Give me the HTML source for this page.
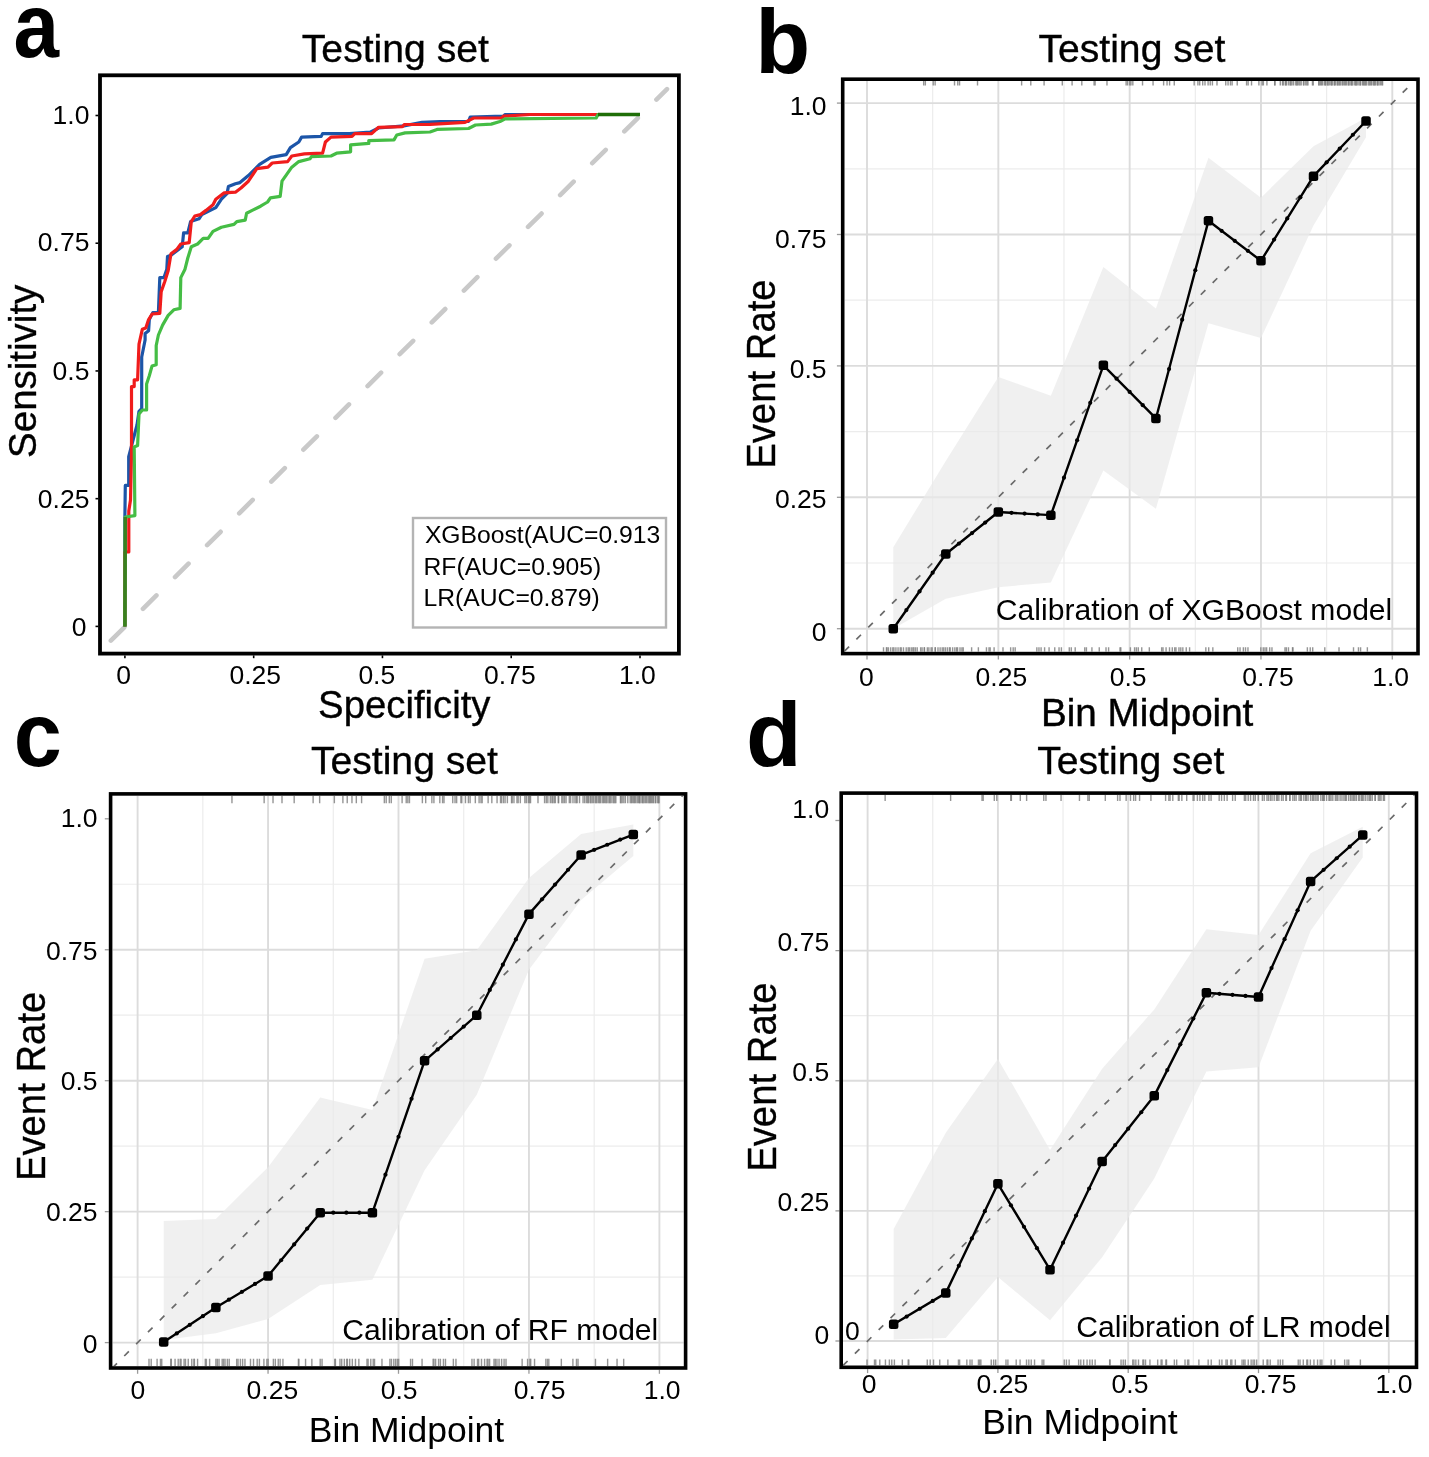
<!DOCTYPE html><html><head><meta charset="utf-8"><title>Figure</title>
<style>html,body{margin:0;padding:0;background:#fff;}svg{display:block;will-change:transform;}text{font-family:"Liberation Sans", sans-serif;}.hv{stroke:#000;stroke-width:0.35px;}</style></head><body>
<svg width="1429" height="1457" viewBox="0 0 1429 1457">
<rect x="0" y="0" width="1429" height="1457" fill="#fff"/>
<text transform="translate(13.6,57) scale(0.9,1)" font-size="91" font-weight="bold">a</text>
<text transform="translate(755.2,73.3)" font-size="90" font-weight="bold">b</text>
<text transform="translate(13.8,765.5) scale(0.95,1)" font-size="91" font-weight="bold">c</text>
<text transform="translate(746,765.6)" font-size="91" font-weight="bold">d</text>
<text x="301.8" y="62" font-size="39.15" text-anchor="start" font-weight="normal" fill="#000" class="hv">Testing set</text>
<defs><clipPath id="clipA"><rect x="101.8" y="77.2" width="675.7" height="574.5"/></clipPath></defs>
<g clip-path="url(#clipA)">
<line x1="109.6" y1="641.9" x2="667" y2="89.1" stroke="#c9c9c9" stroke-width="4.6" stroke-dasharray="19 26.2" stroke-dashoffset="-1.75" stroke-linecap="round"/>
<polyline points="124.9,626.4 124.9,515.6 125.3,485.4 128.7,485.4 128.7,456.6 137,425 139,411.3 141.7,408.6 141.7,357 145.1,340 145.1,333.5 148.6,330.7 149.3,319.6 152.8,312.6 158.4,312.6 159.8,277.6 164,277.6 166.8,269.2 167.5,256.6 171,255.2 182.2,246.8 183.6,232.8 187.8,232.8 190.6,221.6 199,218.8 201.8,214.6 215.8,207.6 221.4,199.2 227,193.6 228.4,186.6 235.4,183.8 240,182.6 248.4,175.6 259.6,164.4 270.8,157.4 286.2,154.6 290.4,147.6 298.8,142 301.6,137.1 321.2,136.4 322.6,133.6 349.2,133.6 370.2,132.2 378.6,128 403.8,125.9 422,122.4 440,121.7 468.5,121.5 470.2,117.1 503.5,116.2 505.2,114.5 640,114.5" fill="none" stroke="#1c55a8" stroke-width="3.2" stroke-linejoin="round"/>
<polyline points="124.9,626.4 124.9,552 128.8,552 128.8,511 130.5,500 131.5,454 131.5,386.6 134.2,386.6 134.2,379.8 137.6,379.8 139,344.1 139.5,341.9 142.3,329.3 145.8,327.9 148.6,319.6 152.1,314 159.8,313.3 161.2,291.6 164.7,281.8 168.2,270.6 171,253.8 176.6,249.6 180.8,244 189.2,242.6 191.3,221.6 194.8,216 200.4,214.6 206,210.4 213,204.8 215.8,199.2 224.2,192.9 235.4,192.2 241,188 248.4,181.2 256.8,168.6 268,167.2 272.2,163 287.6,161.6 291.8,156 304.4,153.9 322.6,153.2 325.4,142 331,137.1 352,136.4 354.8,133.6 371.6,133.6 378.6,127.3 402.4,126.6 404.5,124.5 430,124.3 465,122.4 473.7,118 501.7,118 503.5,116.2 529.7,114.5 640,114.5" fill="none" stroke="#f01c1c" stroke-width="3.2" stroke-linejoin="round"/>
<polyline points="124.9,626.4 125.3,517 134.9,515.6 134.2,447 137.6,445.6 139,414.1 142.4,410 146.6,410 146.6,383.9 149.3,375.7 152,366.1 156.2,364.7 156.2,345.5 158.4,335 162.6,325.1 168.2,315.4 173.8,309.8 180.1,308.4 180.8,277.6 185,269.2 187.8,258 191.3,246.8 197.6,244 203.2,238.4 208.1,238.4 213,231.4 221.4,227.2 234,224.4 236.8,221.6 245.2,220.2 246.6,213.2 252.2,210.4 260.6,206.2 267.6,202 270.4,197.8 280.2,196.4 282,181.2 291.8,167.2 298.8,161.6 310,158.8 311.4,156.7 331,156 336.6,153.2 350.6,151.8 350.6,144.8 368.8,143.4 368.8,140.6 394,139.9 396.8,135 405.1,132.9 430,132 437,129.4 468.5,128.5 475.5,125 491.2,124.1 500,121.5 505.2,118.9 596.2,118 598,114.5 640,114.5" fill="none" stroke="#45bd45" stroke-width="3.2" stroke-linejoin="round"/>
<polyline points="124.9,626.4 125.3,517" fill="none" stroke="#3a801e" stroke-width="3.4" stroke-linejoin="round"/>
<polyline points="598,114.5 640,114.5" fill="none" stroke="#1f6e08" stroke-width="3.4" stroke-linejoin="round"/>
</g>
<rect x="413" y="518" width="253" height="109.5" fill="none" stroke="#b4b4b4" stroke-width="2.4"/>
<text x="424.9" y="543.1" font-size="24.7" text-anchor="start" font-weight="normal" fill="#000">XGBoost(AUC=0.913</text>
<text x="423.5" y="575.4" font-size="24.7" text-anchor="start" font-weight="normal" fill="#000">RF(AUC=0.905)</text>
<text x="423.5" y="605.8" font-size="24.7" text-anchor="start" font-weight="normal" fill="#000">LR(AUC=0.879)</text>
<rect x="100" y="75.3" width="578.9" height="578.3" fill="none" stroke="#000" stroke-width="3.8"/>
<line x1="95.5" y1="626.4" x2="98.2" y2="626.4" stroke="#000" stroke-width="1.6"/>
<line x1="124.9" y1="655.4" x2="124.9" y2="658.2" stroke="#000" stroke-width="1.6"/>
<line x1="95.5" y1="498.67" x2="98.2" y2="498.67" stroke="#000" stroke-width="1.6"/>
<line x1="253.68" y1="655.4" x2="253.68" y2="658.2" stroke="#000" stroke-width="1.6"/>
<line x1="95.5" y1="370.95" x2="98.2" y2="370.95" stroke="#000" stroke-width="1.6"/>
<line x1="382.45" y1="655.4" x2="382.45" y2="658.2" stroke="#000" stroke-width="1.6"/>
<line x1="95.5" y1="243.23" x2="98.2" y2="243.23" stroke="#000" stroke-width="1.6"/>
<line x1="511.23" y1="655.4" x2="511.23" y2="658.2" stroke="#000" stroke-width="1.6"/>
<line x1="95.5" y1="115.5" x2="98.2" y2="115.5" stroke="#000" stroke-width="1.6"/>
<line x1="640" y1="655.4" x2="640" y2="658.2" stroke="#000" stroke-width="1.6"/>
<text x="89.4" y="123.6" font-size="26.5" text-anchor="end" font-weight="normal" fill="#000">1.0</text>
<text x="89.4" y="250.5" font-size="26.5" text-anchor="end" font-weight="normal" fill="#000">0.75</text>
<text x="89.4" y="380.2" font-size="26.5" text-anchor="end" font-weight="normal" fill="#000">0.5</text>
<text x="89.4" y="507.5" font-size="26.5" text-anchor="end" font-weight="normal" fill="#000">0.25</text>
<text x="86.4" y="636" font-size="26.5" text-anchor="end" font-weight="normal" fill="#000">0</text>
<text x="123.7" y="683.6" font-size="26.5" text-anchor="middle" font-weight="normal" fill="#000">0</text>
<text x="255.3" y="683.6" font-size="26.5" text-anchor="middle" font-weight="normal" fill="#000">0.25</text>
<text x="376.8" y="683.6" font-size="26.5" text-anchor="middle" font-weight="normal" fill="#000">0.5</text>
<text x="509.9" y="683.6" font-size="26.5" text-anchor="middle" font-weight="normal" fill="#000">0.75</text>
<text x="637.4" y="683.6" font-size="26.5" text-anchor="middle" font-weight="normal" fill="#000">1.0</text>
<text class="hv" transform="translate(36.4,371.3) rotate(-90) scale(1,1)" x="0" y="0" font-size="38.5" text-anchor="middle">Sensitivity</text>
<text x="404.3" y="718.1" font-size="38.3" text-anchor="middle" font-weight="normal" fill="#000" class="hv">Specificity</text>
<defs><clipPath id="clipB"><rect x="844.5" y="81" width="571.7" height="570.8"/></clipPath></defs>
<g clip-path="url(#clipB)">
<line x1="932.66" y1="81" x2="932.66" y2="651.8" stroke="#ececec" stroke-width="1.2"/>
<line x1="844.5" y1="563" x2="1416.2" y2="563" stroke="#ececec" stroke-width="1.2"/>
<line x1="1063.99" y1="81" x2="1063.99" y2="651.8" stroke="#ececec" stroke-width="1.2"/>
<line x1="844.5" y1="431.6" x2="1416.2" y2="431.6" stroke="#ececec" stroke-width="1.2"/>
<line x1="1195.31" y1="81" x2="1195.31" y2="651.8" stroke="#ececec" stroke-width="1.2"/>
<line x1="844.5" y1="300.2" x2="1416.2" y2="300.2" stroke="#ececec" stroke-width="1.2"/>
<line x1="1326.64" y1="81" x2="1326.64" y2="651.8" stroke="#ececec" stroke-width="1.2"/>
<line x1="844.5" y1="168.8" x2="1416.2" y2="168.8" stroke="#ececec" stroke-width="1.2"/>
<line x1="867" y1="81" x2="867" y2="651.8" stroke="#dcdcdc" stroke-width="1.9"/>
<line x1="844.5" y1="628.7" x2="1416.2" y2="628.7" stroke="#dcdcdc" stroke-width="1.9"/>
<line x1="998.33" y1="81" x2="998.33" y2="651.8" stroke="#dcdcdc" stroke-width="1.9"/>
<line x1="844.5" y1="497.3" x2="1416.2" y2="497.3" stroke="#dcdcdc" stroke-width="1.9"/>
<line x1="1129.65" y1="81" x2="1129.65" y2="651.8" stroke="#dcdcdc" stroke-width="1.9"/>
<line x1="844.5" y1="365.9" x2="1416.2" y2="365.9" stroke="#dcdcdc" stroke-width="1.9"/>
<line x1="1260.97" y1="81" x2="1260.97" y2="651.8" stroke="#dcdcdc" stroke-width="1.9"/>
<line x1="844.5" y1="234.5" x2="1416.2" y2="234.5" stroke="#dcdcdc" stroke-width="1.9"/>
<line x1="1392.3" y1="81" x2="1392.3" y2="651.8" stroke="#dcdcdc" stroke-width="1.9"/>
<line x1="844.5" y1="103.1" x2="1416.2" y2="103.1" stroke="#dcdcdc" stroke-width="1.9"/>
<polygon points="893.26,547.23 945.79,461.03 998.33,376.94 1050.86,395.86 1103.38,267.09 1155.91,308.61 1208.45,157.76 1260.97,197.71 1313.51,146.2 1366.03,117.82 1366.03,137.26 1313.51,225.56 1260.97,338.04 1208.45,323.33 1155.91,508.86 1103.38,470.49 1050.86,582.45 998.33,587.18 945.79,598.74 893.26,628.7" fill="#e9e9e9" fill-opacity="0.7"/>
<line x1="844.5" y1="651.21" x2="1416.2" y2="79.19" stroke="#6a6a6a" stroke-width="1.7" stroke-dasharray="6.5 10.3"/>
<line x1="923.68" y1="81" x2="923.68" y2="85.5" stroke="#7a7a7a" stroke-width="1.4" stroke-opacity="0.8"/>
<line x1="925.34" y1="81" x2="925.34" y2="85.5" stroke="#7a7a7a" stroke-width="1.4" stroke-opacity="0.8"/>
<line x1="933.23" y1="81" x2="933.23" y2="85.5" stroke="#7a7a7a" stroke-width="1.4" stroke-opacity="0.8"/>
<line x1="935.13" y1="81" x2="935.13" y2="85.5" stroke="#7a7a7a" stroke-width="1.4" stroke-opacity="0.8"/>
<line x1="954.52" y1="81" x2="954.52" y2="85.5" stroke="#7a7a7a" stroke-width="1.4" stroke-opacity="0.8"/>
<line x1="957.76" y1="81" x2="957.76" y2="85.5" stroke="#7a7a7a" stroke-width="1.4" stroke-opacity="0.8"/>
<line x1="959.55" y1="81" x2="959.55" y2="85.5" stroke="#7a7a7a" stroke-width="1.4" stroke-opacity="0.8"/>
<line x1="977.51" y1="81" x2="977.51" y2="85.5" stroke="#7a7a7a" stroke-width="1.4" stroke-opacity="0.8"/>
<line x1="1021.63" y1="81" x2="1021.63" y2="85.5" stroke="#7a7a7a" stroke-width="1.4" stroke-opacity="0.8"/>
<line x1="1030.79" y1="81" x2="1030.79" y2="85.5" stroke="#7a7a7a" stroke-width="1.4" stroke-opacity="0.8"/>
<line x1="1044.09" y1="81" x2="1044.09" y2="85.5" stroke="#7a7a7a" stroke-width="1.4" stroke-opacity="0.8"/>
<line x1="1062.3" y1="81" x2="1062.3" y2="85.5" stroke="#7a7a7a" stroke-width="1.4" stroke-opacity="0.8"/>
<line x1="1072.09" y1="81" x2="1072.09" y2="85.5" stroke="#7a7a7a" stroke-width="1.4" stroke-opacity="0.8"/>
<line x1="1081.81" y1="81" x2="1081.81" y2="85.5" stroke="#7a7a7a" stroke-width="1.4" stroke-opacity="0.8"/>
<line x1="1094.08" y1="81" x2="1094.08" y2="85.5" stroke="#7a7a7a" stroke-width="1.4" stroke-opacity="0.8"/>
<line x1="1095.13" y1="81" x2="1095.13" y2="85.5" stroke="#7a7a7a" stroke-width="1.4" stroke-opacity="0.8"/>
<line x1="1106.98" y1="81" x2="1106.98" y2="85.5" stroke="#7a7a7a" stroke-width="1.4" stroke-opacity="0.8"/>
<line x1="1126.12" y1="81" x2="1126.12" y2="85.5" stroke="#7a7a7a" stroke-width="1.4" stroke-opacity="0.8"/>
<line x1="1127.64" y1="81" x2="1127.64" y2="85.5" stroke="#7a7a7a" stroke-width="1.4" stroke-opacity="0.8"/>
<line x1="1129.75" y1="81" x2="1129.75" y2="85.5" stroke="#7a7a7a" stroke-width="1.4" stroke-opacity="0.8"/>
<line x1="1130.95" y1="81" x2="1130.95" y2="85.5" stroke="#7a7a7a" stroke-width="1.4" stroke-opacity="0.8"/>
<line x1="1132.83" y1="81" x2="1132.83" y2="85.5" stroke="#7a7a7a" stroke-width="1.4" stroke-opacity="0.8"/>
<line x1="1142.53" y1="81" x2="1142.53" y2="85.5" stroke="#7a7a7a" stroke-width="1.4" stroke-opacity="0.8"/>
<line x1="1153.06" y1="81" x2="1153.06" y2="85.5" stroke="#7a7a7a" stroke-width="1.4" stroke-opacity="0.8"/>
<line x1="1163.62" y1="81" x2="1163.62" y2="85.5" stroke="#7a7a7a" stroke-width="1.4" stroke-opacity="0.8"/>
<line x1="1167.04" y1="81" x2="1167.04" y2="85.5" stroke="#7a7a7a" stroke-width="1.4" stroke-opacity="0.8"/>
<line x1="1169.6" y1="81" x2="1169.6" y2="85.5" stroke="#7a7a7a" stroke-width="1.4" stroke-opacity="0.8"/>
<line x1="1174.26" y1="81" x2="1174.26" y2="85.5" stroke="#7a7a7a" stroke-width="1.4" stroke-opacity="0.8"/>
<line x1="1194.17" y1="81" x2="1194.17" y2="85.5" stroke="#7a7a7a" stroke-width="1.4" stroke-opacity="0.8"/>
<line x1="1197.91" y1="81" x2="1197.91" y2="85.5" stroke="#7a7a7a" stroke-width="1.4" stroke-opacity="0.8"/>
<line x1="1199.72" y1="81" x2="1199.72" y2="85.5" stroke="#7a7a7a" stroke-width="1.4" stroke-opacity="0.8"/>
<line x1="1202.71" y1="81" x2="1202.71" y2="85.5" stroke="#7a7a7a" stroke-width="1.4" stroke-opacity="0.8"/>
<line x1="1205" y1="81" x2="1205" y2="85.5" stroke="#7a7a7a" stroke-width="1.4" stroke-opacity="0.8"/>
<line x1="1208.1" y1="81" x2="1208.1" y2="85.5" stroke="#7a7a7a" stroke-width="1.4" stroke-opacity="0.8"/>
<line x1="1210.22" y1="81" x2="1210.22" y2="85.5" stroke="#7a7a7a" stroke-width="1.4" stroke-opacity="0.8"/>
<line x1="1212.41" y1="81" x2="1212.41" y2="85.5" stroke="#7a7a7a" stroke-width="1.4" stroke-opacity="0.8"/>
<line x1="1216.99" y1="81" x2="1216.99" y2="85.5" stroke="#7a7a7a" stroke-width="1.4" stroke-opacity="0.8"/>
<line x1="1225.74" y1="81" x2="1225.74" y2="85.5" stroke="#7a7a7a" stroke-width="1.4" stroke-opacity="0.8"/>
<line x1="1228.06" y1="81" x2="1228.06" y2="85.5" stroke="#7a7a7a" stroke-width="1.4" stroke-opacity="0.8"/>
<line x1="1230.45" y1="81" x2="1230.45" y2="85.5" stroke="#7a7a7a" stroke-width="1.4" stroke-opacity="0.8"/>
<line x1="1232.12" y1="81" x2="1232.12" y2="85.5" stroke="#7a7a7a" stroke-width="1.4" stroke-opacity="0.8"/>
<line x1="1237.23" y1="81" x2="1237.23" y2="85.5" stroke="#7a7a7a" stroke-width="1.4" stroke-opacity="0.8"/>
<line x1="1246.58" y1="81" x2="1246.58" y2="85.5" stroke="#7a7a7a" stroke-width="1.4" stroke-opacity="0.8"/>
<line x1="1248.14" y1="81" x2="1248.14" y2="85.5" stroke="#7a7a7a" stroke-width="1.4" stroke-opacity="0.8"/>
<line x1="1251.53" y1="81" x2="1251.53" y2="85.5" stroke="#7a7a7a" stroke-width="1.4" stroke-opacity="0.8"/>
<line x1="1258.9" y1="81" x2="1258.9" y2="85.5" stroke="#7a7a7a" stroke-width="1.4" stroke-opacity="0.8"/>
<line x1="1262.15" y1="81" x2="1262.15" y2="85.5" stroke="#7a7a7a" stroke-width="1.4" stroke-opacity="0.8"/>
<line x1="1263.37" y1="81" x2="1263.37" y2="85.5" stroke="#7a7a7a" stroke-width="1.4" stroke-opacity="0.8"/>
<line x1="1266.91" y1="81" x2="1266.91" y2="85.5" stroke="#7a7a7a" stroke-width="1.4" stroke-opacity="0.8"/>
<line x1="1274.69" y1="81" x2="1274.69" y2="85.5" stroke="#7a7a7a" stroke-width="1.4" stroke-opacity="0.8"/>
<line x1="1275" y1="81" x2="1275" y2="85.5" stroke="#7a7a7a" stroke-width="1.4" stroke-opacity="0.8"/>
<line x1="1280.28" y1="81" x2="1280.28" y2="85.5" stroke="#7a7a7a" stroke-width="1.4" stroke-opacity="0.8"/>
<line x1="1282.52" y1="81" x2="1282.52" y2="85.5" stroke="#7a7a7a" stroke-width="1.4" stroke-opacity="0.8"/>
<line x1="1283.26" y1="81" x2="1283.26" y2="85.5" stroke="#7a7a7a" stroke-width="1.4" stroke-opacity="0.8"/>
<line x1="1285.25" y1="81" x2="1285.25" y2="85.5" stroke="#7a7a7a" stroke-width="1.4" stroke-opacity="0.8"/>
<line x1="1285.8" y1="81" x2="1285.8" y2="85.5" stroke="#7a7a7a" stroke-width="1.4" stroke-opacity="0.8"/>
<line x1="1286.69" y1="81" x2="1286.69" y2="85.5" stroke="#7a7a7a" stroke-width="1.4" stroke-opacity="0.8"/>
<line x1="1288.74" y1="81" x2="1288.74" y2="85.5" stroke="#7a7a7a" stroke-width="1.4" stroke-opacity="0.8"/>
<line x1="1290.25" y1="81" x2="1290.25" y2="85.5" stroke="#7a7a7a" stroke-width="1.4" stroke-opacity="0.8"/>
<line x1="1290.9" y1="81" x2="1290.9" y2="85.5" stroke="#7a7a7a" stroke-width="1.4" stroke-opacity="0.8"/>
<line x1="1291.98" y1="81" x2="1291.98" y2="85.5" stroke="#7a7a7a" stroke-width="1.4" stroke-opacity="0.8"/>
<line x1="1293.62" y1="81" x2="1293.62" y2="85.5" stroke="#7a7a7a" stroke-width="1.4" stroke-opacity="0.8"/>
<line x1="1295.77" y1="81" x2="1295.77" y2="85.5" stroke="#7a7a7a" stroke-width="1.4" stroke-opacity="0.8"/>
<line x1="1296.82" y1="81" x2="1296.82" y2="85.5" stroke="#7a7a7a" stroke-width="1.4" stroke-opacity="0.8"/>
<line x1="1297.29" y1="81" x2="1297.29" y2="85.5" stroke="#7a7a7a" stroke-width="1.4" stroke-opacity="0.8"/>
<line x1="1298.78" y1="81" x2="1298.78" y2="85.5" stroke="#7a7a7a" stroke-width="1.4" stroke-opacity="0.8"/>
<line x1="1299.91" y1="81" x2="1299.91" y2="85.5" stroke="#7a7a7a" stroke-width="1.4" stroke-opacity="0.8"/>
<line x1="1301.17" y1="81" x2="1301.17" y2="85.5" stroke="#7a7a7a" stroke-width="1.4" stroke-opacity="0.8"/>
<line x1="1303.46" y1="81" x2="1303.46" y2="85.5" stroke="#7a7a7a" stroke-width="1.4" stroke-opacity="0.8"/>
<line x1="1303.96" y1="81" x2="1303.96" y2="85.5" stroke="#7a7a7a" stroke-width="1.4" stroke-opacity="0.8"/>
<line x1="1305.78" y1="81" x2="1305.78" y2="85.5" stroke="#7a7a7a" stroke-width="1.4" stroke-opacity="0.8"/>
<line x1="1306.95" y1="81" x2="1306.95" y2="85.5" stroke="#7a7a7a" stroke-width="1.4" stroke-opacity="0.8"/>
<line x1="1307.93" y1="81" x2="1307.93" y2="85.5" stroke="#7a7a7a" stroke-width="1.4" stroke-opacity="0.8"/>
<line x1="1312.46" y1="81" x2="1312.46" y2="85.5" stroke="#7a7a7a" stroke-width="1.4" stroke-opacity="0.8"/>
<line x1="1313.26" y1="81" x2="1313.26" y2="85.5" stroke="#7a7a7a" stroke-width="1.4" stroke-opacity="0.8"/>
<line x1="1318.7" y1="81" x2="1318.7" y2="85.5" stroke="#7a7a7a" stroke-width="1.4" stroke-opacity="0.8"/>
<line x1="1319.21" y1="81" x2="1319.21" y2="85.5" stroke="#7a7a7a" stroke-width="1.4" stroke-opacity="0.8"/>
<line x1="1320.62" y1="81" x2="1320.62" y2="85.5" stroke="#7a7a7a" stroke-width="1.4" stroke-opacity="0.8"/>
<line x1="1321.48" y1="81" x2="1321.48" y2="85.5" stroke="#7a7a7a" stroke-width="1.4" stroke-opacity="0.8"/>
<line x1="1322.63" y1="81" x2="1322.63" y2="85.5" stroke="#7a7a7a" stroke-width="1.4" stroke-opacity="0.8"/>
<line x1="1324.47" y1="81" x2="1324.47" y2="85.5" stroke="#7a7a7a" stroke-width="1.4" stroke-opacity="0.8"/>
<line x1="1325.37" y1="81" x2="1325.37" y2="85.5" stroke="#7a7a7a" stroke-width="1.4" stroke-opacity="0.8"/>
<line x1="1325.91" y1="81" x2="1325.91" y2="85.5" stroke="#7a7a7a" stroke-width="1.4" stroke-opacity="0.8"/>
<line x1="1327.63" y1="81" x2="1327.63" y2="85.5" stroke="#7a7a7a" stroke-width="1.4" stroke-opacity="0.8"/>
<line x1="1327.98" y1="81" x2="1327.98" y2="85.5" stroke="#7a7a7a" stroke-width="1.4" stroke-opacity="0.8"/>
<line x1="1329.26" y1="81" x2="1329.26" y2="85.5" stroke="#7a7a7a" stroke-width="1.4" stroke-opacity="0.8"/>
<line x1="1330.84" y1="81" x2="1330.84" y2="85.5" stroke="#7a7a7a" stroke-width="1.4" stroke-opacity="0.8"/>
<line x1="1331.7" y1="81" x2="1331.7" y2="85.5" stroke="#7a7a7a" stroke-width="1.4" stroke-opacity="0.8"/>
<line x1="1332.19" y1="81" x2="1332.19" y2="85.5" stroke="#7a7a7a" stroke-width="1.4" stroke-opacity="0.8"/>
<line x1="1334.24" y1="81" x2="1334.24" y2="85.5" stroke="#7a7a7a" stroke-width="1.4" stroke-opacity="0.8"/>
<line x1="1334.48" y1="81" x2="1334.48" y2="85.5" stroke="#7a7a7a" stroke-width="1.4" stroke-opacity="0.8"/>
<line x1="1335.61" y1="81" x2="1335.61" y2="85.5" stroke="#7a7a7a" stroke-width="1.4" stroke-opacity="0.8"/>
<line x1="1337.25" y1="81" x2="1337.25" y2="85.5" stroke="#7a7a7a" stroke-width="1.4" stroke-opacity="0.8"/>
<line x1="1337.86" y1="81" x2="1337.86" y2="85.5" stroke="#7a7a7a" stroke-width="1.4" stroke-opacity="0.8"/>
<line x1="1338.9" y1="81" x2="1338.9" y2="85.5" stroke="#7a7a7a" stroke-width="1.4" stroke-opacity="0.8"/>
<line x1="1339.75" y1="81" x2="1339.75" y2="85.5" stroke="#7a7a7a" stroke-width="1.4" stroke-opacity="0.8"/>
<line x1="1340.85" y1="81" x2="1340.85" y2="85.5" stroke="#7a7a7a" stroke-width="1.4" stroke-opacity="0.8"/>
<line x1="1342.46" y1="81" x2="1342.46" y2="85.5" stroke="#7a7a7a" stroke-width="1.4" stroke-opacity="0.8"/>
<line x1="1343.18" y1="81" x2="1343.18" y2="85.5" stroke="#7a7a7a" stroke-width="1.4" stroke-opacity="0.8"/>
<line x1="1344.65" y1="81" x2="1344.65" y2="85.5" stroke="#7a7a7a" stroke-width="1.4" stroke-opacity="0.8"/>
<line x1="1345.49" y1="81" x2="1345.49" y2="85.5" stroke="#7a7a7a" stroke-width="1.4" stroke-opacity="0.8"/>
<line x1="1346.66" y1="81" x2="1346.66" y2="85.5" stroke="#7a7a7a" stroke-width="1.4" stroke-opacity="0.8"/>
<line x1="1348.29" y1="81" x2="1348.29" y2="85.5" stroke="#7a7a7a" stroke-width="1.4" stroke-opacity="0.8"/>
<line x1="1348.86" y1="81" x2="1348.86" y2="85.5" stroke="#7a7a7a" stroke-width="1.4" stroke-opacity="0.8"/>
<line x1="1350.04" y1="81" x2="1350.04" y2="85.5" stroke="#7a7a7a" stroke-width="1.4" stroke-opacity="0.8"/>
<line x1="1351.44" y1="81" x2="1351.44" y2="85.5" stroke="#7a7a7a" stroke-width="1.4" stroke-opacity="0.8"/>
<line x1="1351.78" y1="81" x2="1351.78" y2="85.5" stroke="#7a7a7a" stroke-width="1.4" stroke-opacity="0.8"/>
<line x1="1352.83" y1="81" x2="1352.83" y2="85.5" stroke="#7a7a7a" stroke-width="1.4" stroke-opacity="0.8"/>
<line x1="1354.73" y1="81" x2="1354.73" y2="85.5" stroke="#7a7a7a" stroke-width="1.4" stroke-opacity="0.8"/>
<line x1="1355.72" y1="81" x2="1355.72" y2="85.5" stroke="#7a7a7a" stroke-width="1.4" stroke-opacity="0.8"/>
<line x1="1356.19" y1="81" x2="1356.19" y2="85.5" stroke="#7a7a7a" stroke-width="1.4" stroke-opacity="0.8"/>
<line x1="1357.21" y1="81" x2="1357.21" y2="85.5" stroke="#7a7a7a" stroke-width="1.4" stroke-opacity="0.8"/>
<line x1="1358.88" y1="81" x2="1358.88" y2="85.5" stroke="#7a7a7a" stroke-width="1.4" stroke-opacity="0.8"/>
<line x1="1360.19" y1="81" x2="1360.19" y2="85.5" stroke="#7a7a7a" stroke-width="1.4" stroke-opacity="0.8"/>
<line x1="1360.46" y1="81" x2="1360.46" y2="85.5" stroke="#7a7a7a" stroke-width="1.4" stroke-opacity="0.8"/>
<line x1="1362.36" y1="81" x2="1362.36" y2="85.5" stroke="#7a7a7a" stroke-width="1.4" stroke-opacity="0.8"/>
<line x1="1363.37" y1="81" x2="1363.37" y2="85.5" stroke="#7a7a7a" stroke-width="1.4" stroke-opacity="0.8"/>
<line x1="1364.15" y1="81" x2="1364.15" y2="85.5" stroke="#7a7a7a" stroke-width="1.4" stroke-opacity="0.8"/>
<line x1="1365.04" y1="81" x2="1365.04" y2="85.5" stroke="#7a7a7a" stroke-width="1.4" stroke-opacity="0.8"/>
<line x1="1365.78" y1="81" x2="1365.78" y2="85.5" stroke="#7a7a7a" stroke-width="1.4" stroke-opacity="0.8"/>
<line x1="1366.79" y1="81" x2="1366.79" y2="85.5" stroke="#7a7a7a" stroke-width="1.4" stroke-opacity="0.8"/>
<line x1="1368.88" y1="81" x2="1368.88" y2="85.5" stroke="#7a7a7a" stroke-width="1.4" stroke-opacity="0.8"/>
<line x1="1369.17" y1="81" x2="1369.17" y2="85.5" stroke="#7a7a7a" stroke-width="1.4" stroke-opacity="0.8"/>
<line x1="1370.76" y1="81" x2="1370.76" y2="85.5" stroke="#7a7a7a" stroke-width="1.4" stroke-opacity="0.8"/>
<line x1="1371.36" y1="81" x2="1371.36" y2="85.5" stroke="#7a7a7a" stroke-width="1.4" stroke-opacity="0.8"/>
<line x1="1373.06" y1="81" x2="1373.06" y2="85.5" stroke="#7a7a7a" stroke-width="1.4" stroke-opacity="0.8"/>
<line x1="1373.9" y1="81" x2="1373.9" y2="85.5" stroke="#7a7a7a" stroke-width="1.4" stroke-opacity="0.8"/>
<line x1="1374.65" y1="81" x2="1374.65" y2="85.5" stroke="#7a7a7a" stroke-width="1.4" stroke-opacity="0.8"/>
<line x1="1375.61" y1="81" x2="1375.61" y2="85.5" stroke="#7a7a7a" stroke-width="1.4" stroke-opacity="0.8"/>
<line x1="1377.28" y1="81" x2="1377.28" y2="85.5" stroke="#7a7a7a" stroke-width="1.4" stroke-opacity="0.8"/>
<line x1="1377.66" y1="81" x2="1377.66" y2="85.5" stroke="#7a7a7a" stroke-width="1.4" stroke-opacity="0.8"/>
<line x1="1378.91" y1="81" x2="1378.91" y2="85.5" stroke="#7a7a7a" stroke-width="1.4" stroke-opacity="0.8"/>
<line x1="1380.36" y1="81" x2="1380.36" y2="85.5" stroke="#7a7a7a" stroke-width="1.4" stroke-opacity="0.8"/>
<line x1="1381.76" y1="81" x2="1381.76" y2="85.5" stroke="#7a7a7a" stroke-width="1.4" stroke-opacity="0.8"/>
<line x1="1382.58" y1="81" x2="1382.58" y2="85.5" stroke="#7a7a7a" stroke-width="1.4" stroke-opacity="0.8"/>
<line x1="883.5" y1="647.3" x2="883.5" y2="651.8" stroke="#7a7a7a" stroke-width="1.4" stroke-opacity="0.8"/>
<line x1="886.45" y1="647.3" x2="886.45" y2="651.8" stroke="#7a7a7a" stroke-width="1.4" stroke-opacity="0.8"/>
<line x1="886.97" y1="647.3" x2="886.97" y2="651.8" stroke="#7a7a7a" stroke-width="1.4" stroke-opacity="0.8"/>
<line x1="888.43" y1="647.3" x2="888.43" y2="651.8" stroke="#7a7a7a" stroke-width="1.4" stroke-opacity="0.8"/>
<line x1="890.68" y1="647.3" x2="890.68" y2="651.8" stroke="#7a7a7a" stroke-width="1.4" stroke-opacity="0.8"/>
<line x1="892.8" y1="647.3" x2="892.8" y2="651.8" stroke="#7a7a7a" stroke-width="1.4" stroke-opacity="0.8"/>
<line x1="893.91" y1="647.3" x2="893.91" y2="651.8" stroke="#7a7a7a" stroke-width="1.4" stroke-opacity="0.8"/>
<line x1="895.92" y1="647.3" x2="895.92" y2="651.8" stroke="#7a7a7a" stroke-width="1.4" stroke-opacity="0.8"/>
<line x1="898.06" y1="647.3" x2="898.06" y2="651.8" stroke="#7a7a7a" stroke-width="1.4" stroke-opacity="0.8"/>
<line x1="900.23" y1="647.3" x2="900.23" y2="651.8" stroke="#7a7a7a" stroke-width="1.4" stroke-opacity="0.8"/>
<line x1="901.24" y1="647.3" x2="901.24" y2="651.8" stroke="#7a7a7a" stroke-width="1.4" stroke-opacity="0.8"/>
<line x1="903.45" y1="647.3" x2="903.45" y2="651.8" stroke="#7a7a7a" stroke-width="1.4" stroke-opacity="0.8"/>
<line x1="906.2" y1="647.3" x2="906.2" y2="651.8" stroke="#7a7a7a" stroke-width="1.4" stroke-opacity="0.8"/>
<line x1="908.16" y1="647.3" x2="908.16" y2="651.8" stroke="#7a7a7a" stroke-width="1.4" stroke-opacity="0.8"/>
<line x1="909.38" y1="647.3" x2="909.38" y2="651.8" stroke="#7a7a7a" stroke-width="1.4" stroke-opacity="0.8"/>
<line x1="911.24" y1="647.3" x2="911.24" y2="651.8" stroke="#7a7a7a" stroke-width="1.4" stroke-opacity="0.8"/>
<line x1="912.85" y1="647.3" x2="912.85" y2="651.8" stroke="#7a7a7a" stroke-width="1.4" stroke-opacity="0.8"/>
<line x1="913.85" y1="647.3" x2="913.85" y2="651.8" stroke="#7a7a7a" stroke-width="1.4" stroke-opacity="0.8"/>
<line x1="915.46" y1="647.3" x2="915.46" y2="651.8" stroke="#7a7a7a" stroke-width="1.4" stroke-opacity="0.8"/>
<line x1="917.23" y1="647.3" x2="917.23" y2="651.8" stroke="#7a7a7a" stroke-width="1.4" stroke-opacity="0.8"/>
<line x1="920.64" y1="647.3" x2="920.64" y2="651.8" stroke="#7a7a7a" stroke-width="1.4" stroke-opacity="0.8"/>
<line x1="922.06" y1="647.3" x2="922.06" y2="651.8" stroke="#7a7a7a" stroke-width="1.4" stroke-opacity="0.8"/>
<line x1="924.33" y1="647.3" x2="924.33" y2="651.8" stroke="#7a7a7a" stroke-width="1.4" stroke-opacity="0.8"/>
<line x1="924.44" y1="647.3" x2="924.44" y2="651.8" stroke="#7a7a7a" stroke-width="1.4" stroke-opacity="0.8"/>
<line x1="927.35" y1="647.3" x2="927.35" y2="651.8" stroke="#7a7a7a" stroke-width="1.4" stroke-opacity="0.8"/>
<line x1="928.87" y1="647.3" x2="928.87" y2="651.8" stroke="#7a7a7a" stroke-width="1.4" stroke-opacity="0.8"/>
<line x1="931.11" y1="647.3" x2="931.11" y2="651.8" stroke="#7a7a7a" stroke-width="1.4" stroke-opacity="0.8"/>
<line x1="932.17" y1="647.3" x2="932.17" y2="651.8" stroke="#7a7a7a" stroke-width="1.4" stroke-opacity="0.8"/>
<line x1="935.2" y1="647.3" x2="935.2" y2="651.8" stroke="#7a7a7a" stroke-width="1.4" stroke-opacity="0.8"/>
<line x1="935.34" y1="647.3" x2="935.34" y2="651.8" stroke="#7a7a7a" stroke-width="1.4" stroke-opacity="0.8"/>
<line x1="937.98" y1="647.3" x2="937.98" y2="651.8" stroke="#7a7a7a" stroke-width="1.4" stroke-opacity="0.8"/>
<line x1="940.13" y1="647.3" x2="940.13" y2="651.8" stroke="#7a7a7a" stroke-width="1.4" stroke-opacity="0.8"/>
<line x1="942.22" y1="647.3" x2="942.22" y2="651.8" stroke="#7a7a7a" stroke-width="1.4" stroke-opacity="0.8"/>
<line x1="943.73" y1="647.3" x2="943.73" y2="651.8" stroke="#7a7a7a" stroke-width="1.4" stroke-opacity="0.8"/>
<line x1="945.47" y1="647.3" x2="945.47" y2="651.8" stroke="#7a7a7a" stroke-width="1.4" stroke-opacity="0.8"/>
<line x1="947.43" y1="647.3" x2="947.43" y2="651.8" stroke="#7a7a7a" stroke-width="1.4" stroke-opacity="0.8"/>
<line x1="949.45" y1="647.3" x2="949.45" y2="651.8" stroke="#7a7a7a" stroke-width="1.4" stroke-opacity="0.8"/>
<line x1="950.23" y1="647.3" x2="950.23" y2="651.8" stroke="#7a7a7a" stroke-width="1.4" stroke-opacity="0.8"/>
<line x1="952.63" y1="647.3" x2="952.63" y2="651.8" stroke="#7a7a7a" stroke-width="1.4" stroke-opacity="0.8"/>
<line x1="954.82" y1="647.3" x2="954.82" y2="651.8" stroke="#7a7a7a" stroke-width="1.4" stroke-opacity="0.8"/>
<line x1="956.57" y1="647.3" x2="956.57" y2="651.8" stroke="#7a7a7a" stroke-width="1.4" stroke-opacity="0.8"/>
<line x1="957.55" y1="647.3" x2="957.55" y2="651.8" stroke="#7a7a7a" stroke-width="1.4" stroke-opacity="0.8"/>
<line x1="960.02" y1="647.3" x2="960.02" y2="651.8" stroke="#7a7a7a" stroke-width="1.4" stroke-opacity="0.8"/>
<line x1="961.95" y1="647.3" x2="961.95" y2="651.8" stroke="#7a7a7a" stroke-width="1.4" stroke-opacity="0.8"/>
<line x1="963.23" y1="647.3" x2="963.23" y2="651.8" stroke="#7a7a7a" stroke-width="1.4" stroke-opacity="0.8"/>
<line x1="971.62" y1="647.3" x2="971.62" y2="651.8" stroke="#7a7a7a" stroke-width="1.4" stroke-opacity="0.8"/>
<line x1="978.38" y1="647.3" x2="978.38" y2="651.8" stroke="#7a7a7a" stroke-width="1.4" stroke-opacity="0.8"/>
<line x1="986.46" y1="647.3" x2="986.46" y2="651.8" stroke="#7a7a7a" stroke-width="1.4" stroke-opacity="0.8"/>
<line x1="989.02" y1="647.3" x2="989.02" y2="651.8" stroke="#7a7a7a" stroke-width="1.4" stroke-opacity="0.8"/>
<line x1="990.2" y1="647.3" x2="990.2" y2="651.8" stroke="#7a7a7a" stroke-width="1.4" stroke-opacity="0.8"/>
<line x1="994.1" y1="647.3" x2="994.1" y2="651.8" stroke="#7a7a7a" stroke-width="1.4" stroke-opacity="0.8"/>
<line x1="1002.98" y1="647.3" x2="1002.98" y2="651.8" stroke="#7a7a7a" stroke-width="1.4" stroke-opacity="0.8"/>
<line x1="1010.64" y1="647.3" x2="1010.64" y2="651.8" stroke="#7a7a7a" stroke-width="1.4" stroke-opacity="0.8"/>
<line x1="1013.18" y1="647.3" x2="1013.18" y2="651.8" stroke="#7a7a7a" stroke-width="1.4" stroke-opacity="0.8"/>
<line x1="1015.17" y1="647.3" x2="1015.17" y2="651.8" stroke="#7a7a7a" stroke-width="1.4" stroke-opacity="0.8"/>
<line x1="1036.84" y1="647.3" x2="1036.84" y2="651.8" stroke="#7a7a7a" stroke-width="1.4" stroke-opacity="0.8"/>
<line x1="1038.95" y1="647.3" x2="1038.95" y2="651.8" stroke="#7a7a7a" stroke-width="1.4" stroke-opacity="0.8"/>
<line x1="1041.1" y1="647.3" x2="1041.1" y2="651.8" stroke="#7a7a7a" stroke-width="1.4" stroke-opacity="0.8"/>
<line x1="1044.6" y1="647.3" x2="1044.6" y2="651.8" stroke="#7a7a7a" stroke-width="1.4" stroke-opacity="0.8"/>
<line x1="1049.08" y1="647.3" x2="1049.08" y2="651.8" stroke="#7a7a7a" stroke-width="1.4" stroke-opacity="0.8"/>
<line x1="1054.75" y1="647.3" x2="1054.75" y2="651.8" stroke="#7a7a7a" stroke-width="1.4" stroke-opacity="0.8"/>
<line x1="1059.04" y1="647.3" x2="1059.04" y2="651.8" stroke="#7a7a7a" stroke-width="1.4" stroke-opacity="0.8"/>
<line x1="1061.4" y1="647.3" x2="1061.4" y2="651.8" stroke="#7a7a7a" stroke-width="1.4" stroke-opacity="0.8"/>
<line x1="1069.28" y1="647.3" x2="1069.28" y2="651.8" stroke="#7a7a7a" stroke-width="1.4" stroke-opacity="0.8"/>
<line x1="1071.28" y1="647.3" x2="1071.28" y2="651.8" stroke="#7a7a7a" stroke-width="1.4" stroke-opacity="0.8"/>
<line x1="1075.2" y1="647.3" x2="1075.2" y2="651.8" stroke="#7a7a7a" stroke-width="1.4" stroke-opacity="0.8"/>
<line x1="1084.75" y1="647.3" x2="1084.75" y2="651.8" stroke="#7a7a7a" stroke-width="1.4" stroke-opacity="0.8"/>
<line x1="1086.42" y1="647.3" x2="1086.42" y2="651.8" stroke="#7a7a7a" stroke-width="1.4" stroke-opacity="0.8"/>
<line x1="1091.92" y1="647.3" x2="1091.92" y2="651.8" stroke="#7a7a7a" stroke-width="1.4" stroke-opacity="0.8"/>
<line x1="1099.26" y1="647.3" x2="1099.26" y2="651.8" stroke="#7a7a7a" stroke-width="1.4" stroke-opacity="0.8"/>
<line x1="1106.02" y1="647.3" x2="1106.02" y2="651.8" stroke="#7a7a7a" stroke-width="1.4" stroke-opacity="0.8"/>
<line x1="1108.6" y1="647.3" x2="1108.6" y2="651.8" stroke="#7a7a7a" stroke-width="1.4" stroke-opacity="0.8"/>
<line x1="1120.02" y1="647.3" x2="1120.02" y2="651.8" stroke="#7a7a7a" stroke-width="1.4" stroke-opacity="0.8"/>
<line x1="1120.8" y1="647.3" x2="1120.8" y2="651.8" stroke="#7a7a7a" stroke-width="1.4" stroke-opacity="0.8"/>
<line x1="1130.41" y1="647.3" x2="1130.41" y2="651.8" stroke="#7a7a7a" stroke-width="1.4" stroke-opacity="0.8"/>
<line x1="1134.57" y1="647.3" x2="1134.57" y2="651.8" stroke="#7a7a7a" stroke-width="1.4" stroke-opacity="0.8"/>
<line x1="1136.38" y1="647.3" x2="1136.38" y2="651.8" stroke="#7a7a7a" stroke-width="1.4" stroke-opacity="0.8"/>
<line x1="1138.26" y1="647.3" x2="1138.26" y2="651.8" stroke="#7a7a7a" stroke-width="1.4" stroke-opacity="0.8"/>
<line x1="1141.74" y1="647.3" x2="1141.74" y2="651.8" stroke="#7a7a7a" stroke-width="1.4" stroke-opacity="0.8"/>
<line x1="1149.33" y1="647.3" x2="1149.33" y2="651.8" stroke="#7a7a7a" stroke-width="1.4" stroke-opacity="0.8"/>
<line x1="1161.66" y1="647.3" x2="1161.66" y2="651.8" stroke="#7a7a7a" stroke-width="1.4" stroke-opacity="0.8"/>
<line x1="1163" y1="647.3" x2="1163" y2="651.8" stroke="#7a7a7a" stroke-width="1.4" stroke-opacity="0.8"/>
<line x1="1166.08" y1="647.3" x2="1166.08" y2="651.8" stroke="#7a7a7a" stroke-width="1.4" stroke-opacity="0.8"/>
<line x1="1169.51" y1="647.3" x2="1169.51" y2="651.8" stroke="#7a7a7a" stroke-width="1.4" stroke-opacity="0.8"/>
<line x1="1172.29" y1="647.3" x2="1172.29" y2="651.8" stroke="#7a7a7a" stroke-width="1.4" stroke-opacity="0.8"/>
<line x1="1174.7" y1="647.3" x2="1174.7" y2="651.8" stroke="#7a7a7a" stroke-width="1.4" stroke-opacity="0.8"/>
<line x1="1175.96" y1="647.3" x2="1175.96" y2="651.8" stroke="#7a7a7a" stroke-width="1.4" stroke-opacity="0.8"/>
<line x1="1178.96" y1="647.3" x2="1178.96" y2="651.8" stroke="#7a7a7a" stroke-width="1.4" stroke-opacity="0.8"/>
<line x1="1180.79" y1="647.3" x2="1180.79" y2="651.8" stroke="#7a7a7a" stroke-width="1.4" stroke-opacity="0.8"/>
<line x1="1182.84" y1="647.3" x2="1182.84" y2="651.8" stroke="#7a7a7a" stroke-width="1.4" stroke-opacity="0.8"/>
<line x1="1186.24" y1="647.3" x2="1186.24" y2="651.8" stroke="#7a7a7a" stroke-width="1.4" stroke-opacity="0.8"/>
<line x1="1189.59" y1="647.3" x2="1189.59" y2="651.8" stroke="#7a7a7a" stroke-width="1.4" stroke-opacity="0.8"/>
<line x1="1205.83" y1="647.3" x2="1205.83" y2="651.8" stroke="#7a7a7a" stroke-width="1.4" stroke-opacity="0.8"/>
<line x1="1208.7" y1="647.3" x2="1208.7" y2="651.8" stroke="#7a7a7a" stroke-width="1.4" stroke-opacity="0.8"/>
<line x1="1212.83" y1="647.3" x2="1212.83" y2="651.8" stroke="#7a7a7a" stroke-width="1.4" stroke-opacity="0.8"/>
<line x1="1237.72" y1="647.3" x2="1237.72" y2="651.8" stroke="#7a7a7a" stroke-width="1.4" stroke-opacity="0.8"/>
<line x1="1240.04" y1="647.3" x2="1240.04" y2="651.8" stroke="#7a7a7a" stroke-width="1.4" stroke-opacity="0.8"/>
<line x1="1243.37" y1="647.3" x2="1243.37" y2="651.8" stroke="#7a7a7a" stroke-width="1.4" stroke-opacity="0.8"/>
<line x1="1245.52" y1="647.3" x2="1245.52" y2="651.8" stroke="#7a7a7a" stroke-width="1.4" stroke-opacity="0.8"/>
<line x1="1247.96" y1="647.3" x2="1247.96" y2="651.8" stroke="#7a7a7a" stroke-width="1.4" stroke-opacity="0.8"/>
<line x1="1260.83" y1="647.3" x2="1260.83" y2="651.8" stroke="#7a7a7a" stroke-width="1.4" stroke-opacity="0.8"/>
<line x1="1263.25" y1="647.3" x2="1263.25" y2="651.8" stroke="#7a7a7a" stroke-width="1.4" stroke-opacity="0.8"/>
<line x1="1264.99" y1="647.3" x2="1264.99" y2="651.8" stroke="#7a7a7a" stroke-width="1.4" stroke-opacity="0.8"/>
<line x1="1266.63" y1="647.3" x2="1266.63" y2="651.8" stroke="#7a7a7a" stroke-width="1.4" stroke-opacity="0.8"/>
<line x1="1269.68" y1="647.3" x2="1269.68" y2="651.8" stroke="#7a7a7a" stroke-width="1.4" stroke-opacity="0.8"/>
<line x1="1271.96" y1="647.3" x2="1271.96" y2="651.8" stroke="#7a7a7a" stroke-width="1.4" stroke-opacity="0.8"/>
<line x1="1285" y1="647.3" x2="1285" y2="651.8" stroke="#7a7a7a" stroke-width="1.4" stroke-opacity="0.8"/>
<line x1="1286.36" y1="647.3" x2="1286.36" y2="651.8" stroke="#7a7a7a" stroke-width="1.4" stroke-opacity="0.8"/>
<line x1="1288.47" y1="647.3" x2="1288.47" y2="651.8" stroke="#7a7a7a" stroke-width="1.4" stroke-opacity="0.8"/>
<line x1="1292.52" y1="647.3" x2="1292.52" y2="651.8" stroke="#7a7a7a" stroke-width="1.4" stroke-opacity="0.8"/>
<line x1="1292.89" y1="647.3" x2="1292.89" y2="651.8" stroke="#7a7a7a" stroke-width="1.4" stroke-opacity="0.8"/>
<line x1="1307.36" y1="647.3" x2="1307.36" y2="651.8" stroke="#7a7a7a" stroke-width="1.4" stroke-opacity="0.8"/>
<line x1="1310.24" y1="647.3" x2="1310.24" y2="651.8" stroke="#7a7a7a" stroke-width="1.4" stroke-opacity="0.8"/>
<line x1="1312.7" y1="647.3" x2="1312.7" y2="651.8" stroke="#7a7a7a" stroke-width="1.4" stroke-opacity="0.8"/>
<line x1="1324.79" y1="647.3" x2="1324.79" y2="651.8" stroke="#7a7a7a" stroke-width="1.4" stroke-opacity="0.8"/>
<line x1="1339.02" y1="647.3" x2="1339.02" y2="651.8" stroke="#7a7a7a" stroke-width="1.4" stroke-opacity="0.8"/>
<line x1="1353.51" y1="647.3" x2="1353.51" y2="651.8" stroke="#7a7a7a" stroke-width="1.4" stroke-opacity="0.8"/>
<line x1="1358.46" y1="647.3" x2="1358.46" y2="651.8" stroke="#7a7a7a" stroke-width="1.4" stroke-opacity="0.8"/>
<line x1="1360.59" y1="647.3" x2="1360.59" y2="651.8" stroke="#7a7a7a" stroke-width="1.4" stroke-opacity="0.8"/>
<line x1="1367.36" y1="647.3" x2="1367.36" y2="651.8" stroke="#7a7a7a" stroke-width="1.4" stroke-opacity="0.8"/>
<polyline points="893.26,628.7 945.79,554.06 998.33,512.02 1050.86,515.17 1103.38,365.37 1155.91,418.46 1208.45,220.83 1260.97,260.78 1313.51,176.16 1366.03,120.97" fill="none" stroke="#000" stroke-width="2.4" stroke-linejoin="round"/>
<circle cx="906.4" cy="610.04" r="2.1" fill="#000"/>
<circle cx="919.53" cy="591.38" r="2.1" fill="#000"/>
<circle cx="932.66" cy="572.72" r="2.1" fill="#000"/>
<circle cx="958.93" cy="543.55" r="2.1" fill="#000"/>
<circle cx="972.06" cy="533.04" r="2.1" fill="#000"/>
<circle cx="985.19" cy="522.53" r="2.1" fill="#000"/>
<circle cx="1011.46" cy="512.81" r="2.1" fill="#000"/>
<circle cx="1024.59" cy="513.59" r="2.1" fill="#000"/>
<circle cx="1037.72" cy="514.38" r="2.1" fill="#000"/>
<circle cx="1063.99" cy="477.72" r="2.1" fill="#000"/>
<circle cx="1077.12" cy="440.27" r="2.1" fill="#000"/>
<circle cx="1090.25" cy="402.82" r="2.1" fill="#000"/>
<circle cx="1116.52" cy="378.65" r="2.1" fill="#000"/>
<circle cx="1129.65" cy="391.92" r="2.1" fill="#000"/>
<circle cx="1142.78" cy="405.19" r="2.1" fill="#000"/>
<circle cx="1169.05" cy="369.05" r="2.1" fill="#000"/>
<circle cx="1182.18" cy="319.65" r="2.1" fill="#000"/>
<circle cx="1195.31" cy="270.24" r="2.1" fill="#000"/>
<circle cx="1221.58" cy="230.82" r="2.1" fill="#000"/>
<circle cx="1234.71" cy="240.81" r="2.1" fill="#000"/>
<circle cx="1247.84" cy="250.79" r="2.1" fill="#000"/>
<circle cx="1274.11" cy="239.62" r="2.1" fill="#000"/>
<circle cx="1287.24" cy="218.47" r="2.1" fill="#000"/>
<circle cx="1300.37" cy="197.31" r="2.1" fill="#000"/>
<circle cx="1326.64" cy="162.36" r="2.1" fill="#000"/>
<circle cx="1339.77" cy="148.56" r="2.1" fill="#000"/>
<circle cx="1352.9" cy="134.77" r="2.1" fill="#000"/>
<rect x="888.51" y="623.95" width="9.5" height="9.5" fill="#000" rx="2.5"/>
<rect x="941.04" y="549.31" width="9.5" height="9.5" fill="#000" rx="2.5"/>
<rect x="993.58" y="507.27" width="9.5" height="9.5" fill="#000" rx="2.5"/>
<rect x="1046.11" y="510.42" width="9.5" height="9.5" fill="#000" rx="2.5"/>
<rect x="1098.63" y="360.62" width="9.5" height="9.5" fill="#000" rx="2.5"/>
<rect x="1151.16" y="413.71" width="9.5" height="9.5" fill="#000" rx="2.5"/>
<rect x="1203.7" y="216.08" width="9.5" height="9.5" fill="#000" rx="2.5"/>
<rect x="1256.22" y="256.03" width="9.5" height="9.5" fill="#000" rx="2.5"/>
<rect x="1308.76" y="171.41" width="9.5" height="9.5" fill="#000" rx="2.5"/>
<rect x="1361.28" y="116.22" width="9.5" height="9.5" fill="#000" rx="2.5"/>
</g>
<line x1="836.9" y1="628.7" x2="840.9" y2="628.7" stroke="#9a9a9a" stroke-width="1.3"/>
<line x1="867" y1="655.4" x2="867" y2="659.4" stroke="#9a9a9a" stroke-width="1.3"/>
<line x1="836.9" y1="497.3" x2="840.9" y2="497.3" stroke="#9a9a9a" stroke-width="1.3"/>
<line x1="998.33" y1="655.4" x2="998.33" y2="659.4" stroke="#9a9a9a" stroke-width="1.3"/>
<line x1="836.9" y1="365.9" x2="840.9" y2="365.9" stroke="#9a9a9a" stroke-width="1.3"/>
<line x1="1129.65" y1="655.4" x2="1129.65" y2="659.4" stroke="#9a9a9a" stroke-width="1.3"/>
<line x1="836.9" y1="234.5" x2="840.9" y2="234.5" stroke="#9a9a9a" stroke-width="1.3"/>
<line x1="1260.97" y1="655.4" x2="1260.97" y2="659.4" stroke="#9a9a9a" stroke-width="1.3"/>
<line x1="836.9" y1="103.1" x2="840.9" y2="103.1" stroke="#9a9a9a" stroke-width="1.3"/>
<line x1="1392.3" y1="655.4" x2="1392.3" y2="659.4" stroke="#9a9a9a" stroke-width="1.3"/>
<rect x="842.7" y="79.2" width="575.3" height="574.4" fill="none" stroke="#000" stroke-width="3.6"/>
<text x="1392.3" y="620.1" font-size="30.1" text-anchor="end" font-weight="normal" fill="#000">Calibration of XGBoost model</text>
<text x="826.5" y="114.6" font-size="26.5" text-anchor="end" font-weight="normal" fill="#000">1.0</text>
<text x="826.5" y="248.1" font-size="26.5" text-anchor="end" font-weight="normal" fill="#000">0.75</text>
<text x="826.5" y="377.6" font-size="26.5" text-anchor="end" font-weight="normal" fill="#000">0.5</text>
<text x="826.5" y="507.6" font-size="26.5" text-anchor="end" font-weight="normal" fill="#000">0.25</text>
<text x="826.5" y="641.1" font-size="26.5" text-anchor="end" font-weight="normal" fill="#000">0</text>
<text x="866.4" y="686.1" font-size="26.5" text-anchor="middle" font-weight="normal" fill="#000">0</text>
<text x="1001.4" y="686.1" font-size="26.5" text-anchor="middle" font-weight="normal" fill="#000">0.25</text>
<text x="1128.2" y="686.1" font-size="26.5" text-anchor="middle" font-weight="normal" fill="#000">0.5</text>
<text x="1268" y="686.1" font-size="26.5" text-anchor="middle" font-weight="normal" fill="#000">0.75</text>
<text x="1390.6" y="686.1" font-size="26.5" text-anchor="middle" font-weight="normal" fill="#000">1.0</text>
<text x="1038.4" y="62" font-size="39.15" text-anchor="start" font-weight="normal" fill="#000" class="hv">Testing set</text>
<text class="hv" transform="translate(774.6,374.1) rotate(-90) scale(1,1.06)" x="0" y="0" font-size="38.3" text-anchor="middle">Event Rate</text>
<text x="1147.2" y="726.1" font-size="38.6" text-anchor="middle" font-weight="normal" fill="#000" stroke="#000" stroke-width="0.45">Bin Midpoint</text>
<defs><clipPath id="clipC"><rect x="112.4" y="795.7" width="571.4" height="570.5"/></clipPath></defs>
<g clip-path="url(#clipC)">
<line x1="202.82" y1="795.7" x2="202.82" y2="1366.2" stroke="#ececec" stroke-width="1.2"/>
<line x1="112.4" y1="1277.12" x2="683.8" y2="1277.12" stroke="#ececec" stroke-width="1.2"/>
<line x1="333.27" y1="795.7" x2="333.27" y2="1366.2" stroke="#ececec" stroke-width="1.2"/>
<line x1="112.4" y1="1146.17" x2="683.8" y2="1146.17" stroke="#ececec" stroke-width="1.2"/>
<line x1="463.73" y1="795.7" x2="463.73" y2="1366.2" stroke="#ececec" stroke-width="1.2"/>
<line x1="112.4" y1="1015.22" x2="683.8" y2="1015.22" stroke="#ececec" stroke-width="1.2"/>
<line x1="594.17" y1="795.7" x2="594.17" y2="1366.2" stroke="#ececec" stroke-width="1.2"/>
<line x1="112.4" y1="884.27" x2="683.8" y2="884.27" stroke="#ececec" stroke-width="1.2"/>
<line x1="137.6" y1="795.7" x2="137.6" y2="1366.2" stroke="#dcdcdc" stroke-width="1.9"/>
<line x1="112.4" y1="1342.6" x2="683.8" y2="1342.6" stroke="#dcdcdc" stroke-width="1.9"/>
<line x1="268.05" y1="795.7" x2="268.05" y2="1366.2" stroke="#dcdcdc" stroke-width="1.9"/>
<line x1="112.4" y1="1211.65" x2="683.8" y2="1211.65" stroke="#dcdcdc" stroke-width="1.9"/>
<line x1="398.5" y1="795.7" x2="398.5" y2="1366.2" stroke="#dcdcdc" stroke-width="1.9"/>
<line x1="112.4" y1="1080.7" x2="683.8" y2="1080.7" stroke="#dcdcdc" stroke-width="1.9"/>
<line x1="528.95" y1="795.7" x2="528.95" y2="1366.2" stroke="#dcdcdc" stroke-width="1.9"/>
<line x1="112.4" y1="949.75" x2="683.8" y2="949.75" stroke="#dcdcdc" stroke-width="1.9"/>
<line x1="659.4" y1="795.7" x2="659.4" y2="1366.2" stroke="#dcdcdc" stroke-width="1.9"/>
<polygon points="163.69,1221.08 215.87,1218.98 268.05,1167.13 320.23,1097.46 372.41,1110.03 424.59,958.65 476.77,950.27 528.95,877.99 581.13,833.99 633.31,824.56 633.31,855.99 581.13,899.99 528.95,969.65 476.77,1094.84 424.59,1170.27 372.41,1279.74 320.23,1284.98 268.05,1319.03 215.87,1333.17 163.69,1339.98" fill="#e9e9e9" fill-opacity="0.7"/>
<line x1="112.4" y1="1367.9" x2="683.8" y2="794.31" stroke="#6a6a6a" stroke-width="1.7" stroke-dasharray="6.5 10.3"/>
<line x1="231.96" y1="795.7" x2="231.96" y2="803.2" stroke="#7a7a7a" stroke-width="1.4" stroke-opacity="0.8"/>
<line x1="264.14" y1="795.7" x2="264.14" y2="803.2" stroke="#7a7a7a" stroke-width="1.4" stroke-opacity="0.8"/>
<line x1="273.02" y1="795.7" x2="273.02" y2="803.2" stroke="#7a7a7a" stroke-width="1.4" stroke-opacity="0.8"/>
<line x1="282" y1="795.7" x2="282" y2="803.2" stroke="#7a7a7a" stroke-width="1.4" stroke-opacity="0.8"/>
<line x1="294.18" y1="795.7" x2="294.18" y2="803.2" stroke="#7a7a7a" stroke-width="1.4" stroke-opacity="0.8"/>
<line x1="313.12" y1="795.7" x2="313.12" y2="803.2" stroke="#7a7a7a" stroke-width="1.4" stroke-opacity="0.8"/>
<line x1="319.65" y1="795.7" x2="319.65" y2="803.2" stroke="#7a7a7a" stroke-width="1.4" stroke-opacity="0.8"/>
<line x1="334.35" y1="795.7" x2="334.35" y2="803.2" stroke="#7a7a7a" stroke-width="1.4" stroke-opacity="0.8"/>
<line x1="342.89" y1="795.7" x2="342.89" y2="803.2" stroke="#7a7a7a" stroke-width="1.4" stroke-opacity="0.8"/>
<line x1="347.23" y1="795.7" x2="347.23" y2="803.2" stroke="#7a7a7a" stroke-width="1.4" stroke-opacity="0.8"/>
<line x1="351.96" y1="795.7" x2="351.96" y2="803.2" stroke="#7a7a7a" stroke-width="1.4" stroke-opacity="0.8"/>
<line x1="356.32" y1="795.7" x2="356.32" y2="803.2" stroke="#7a7a7a" stroke-width="1.4" stroke-opacity="0.8"/>
<line x1="361.6" y1="795.7" x2="361.6" y2="803.2" stroke="#7a7a7a" stroke-width="1.4" stroke-opacity="0.8"/>
<line x1="384.33" y1="795.7" x2="384.33" y2="803.2" stroke="#7a7a7a" stroke-width="1.4" stroke-opacity="0.8"/>
<line x1="386.21" y1="795.7" x2="386.21" y2="803.2" stroke="#7a7a7a" stroke-width="1.4" stroke-opacity="0.8"/>
<line x1="389.31" y1="795.7" x2="389.31" y2="803.2" stroke="#7a7a7a" stroke-width="1.4" stroke-opacity="0.8"/>
<line x1="391.27" y1="795.7" x2="391.27" y2="803.2" stroke="#7a7a7a" stroke-width="1.4" stroke-opacity="0.8"/>
<line x1="402.11" y1="795.7" x2="402.11" y2="803.2" stroke="#7a7a7a" stroke-width="1.4" stroke-opacity="0.8"/>
<line x1="406.23" y1="795.7" x2="406.23" y2="803.2" stroke="#7a7a7a" stroke-width="1.4" stroke-opacity="0.8"/>
<line x1="407.83" y1="795.7" x2="407.83" y2="803.2" stroke="#7a7a7a" stroke-width="1.4" stroke-opacity="0.8"/>
<line x1="409.45" y1="795.7" x2="409.45" y2="803.2" stroke="#7a7a7a" stroke-width="1.4" stroke-opacity="0.8"/>
<line x1="422.38" y1="795.7" x2="422.38" y2="803.2" stroke="#7a7a7a" stroke-width="1.4" stroke-opacity="0.8"/>
<line x1="425.7" y1="795.7" x2="425.7" y2="803.2" stroke="#7a7a7a" stroke-width="1.4" stroke-opacity="0.8"/>
<line x1="431.87" y1="795.7" x2="431.87" y2="803.2" stroke="#7a7a7a" stroke-width="1.4" stroke-opacity="0.8"/>
<line x1="433.91" y1="795.7" x2="433.91" y2="803.2" stroke="#7a7a7a" stroke-width="1.4" stroke-opacity="0.8"/>
<line x1="439.81" y1="795.7" x2="439.81" y2="803.2" stroke="#7a7a7a" stroke-width="1.4" stroke-opacity="0.8"/>
<line x1="442.58" y1="795.7" x2="442.58" y2="803.2" stroke="#7a7a7a" stroke-width="1.4" stroke-opacity="0.8"/>
<line x1="443.99" y1="795.7" x2="443.99" y2="803.2" stroke="#7a7a7a" stroke-width="1.4" stroke-opacity="0.8"/>
<line x1="452.75" y1="795.7" x2="452.75" y2="803.2" stroke="#7a7a7a" stroke-width="1.4" stroke-opacity="0.8"/>
<line x1="455.03" y1="795.7" x2="455.03" y2="803.2" stroke="#7a7a7a" stroke-width="1.4" stroke-opacity="0.8"/>
<line x1="456.65" y1="795.7" x2="456.65" y2="803.2" stroke="#7a7a7a" stroke-width="1.4" stroke-opacity="0.8"/>
<line x1="460.89" y1="795.7" x2="460.89" y2="803.2" stroke="#7a7a7a" stroke-width="1.4" stroke-opacity="0.8"/>
<line x1="461.78" y1="795.7" x2="461.78" y2="803.2" stroke="#7a7a7a" stroke-width="1.4" stroke-opacity="0.8"/>
<line x1="465.45" y1="795.7" x2="465.45" y2="803.2" stroke="#7a7a7a" stroke-width="1.4" stroke-opacity="0.8"/>
<line x1="468.39" y1="795.7" x2="468.39" y2="803.2" stroke="#7a7a7a" stroke-width="1.4" stroke-opacity="0.8"/>
<line x1="470.13" y1="795.7" x2="470.13" y2="803.2" stroke="#7a7a7a" stroke-width="1.4" stroke-opacity="0.8"/>
<line x1="475.32" y1="795.7" x2="475.32" y2="803.2" stroke="#7a7a7a" stroke-width="1.4" stroke-opacity="0.8"/>
<line x1="479.11" y1="795.7" x2="479.11" y2="803.2" stroke="#7a7a7a" stroke-width="1.4" stroke-opacity="0.8"/>
<line x1="481" y1="795.7" x2="481" y2="803.2" stroke="#7a7a7a" stroke-width="1.4" stroke-opacity="0.8"/>
<line x1="482.17" y1="795.7" x2="482.17" y2="803.2" stroke="#7a7a7a" stroke-width="1.4" stroke-opacity="0.8"/>
<line x1="488.12" y1="795.7" x2="488.12" y2="803.2" stroke="#7a7a7a" stroke-width="1.4" stroke-opacity="0.8"/>
<line x1="491.83" y1="795.7" x2="491.83" y2="803.2" stroke="#7a7a7a" stroke-width="1.4" stroke-opacity="0.8"/>
<line x1="497.06" y1="795.7" x2="497.06" y2="803.2" stroke="#7a7a7a" stroke-width="1.4" stroke-opacity="0.8"/>
<line x1="500.53" y1="795.7" x2="500.53" y2="803.2" stroke="#7a7a7a" stroke-width="1.4" stroke-opacity="0.8"/>
<line x1="501.59" y1="795.7" x2="501.59" y2="803.2" stroke="#7a7a7a" stroke-width="1.4" stroke-opacity="0.8"/>
<line x1="503.45" y1="795.7" x2="503.45" y2="803.2" stroke="#7a7a7a" stroke-width="1.4" stroke-opacity="0.8"/>
<line x1="505.08" y1="795.7" x2="505.08" y2="803.2" stroke="#7a7a7a" stroke-width="1.4" stroke-opacity="0.8"/>
<line x1="507.38" y1="795.7" x2="507.38" y2="803.2" stroke="#7a7a7a" stroke-width="1.4" stroke-opacity="0.8"/>
<line x1="511.53" y1="795.7" x2="511.53" y2="803.2" stroke="#7a7a7a" stroke-width="1.4" stroke-opacity="0.8"/>
<line x1="512.18" y1="795.7" x2="512.18" y2="803.2" stroke="#7a7a7a" stroke-width="1.4" stroke-opacity="0.8"/>
<line x1="513.96" y1="795.7" x2="513.96" y2="803.2" stroke="#7a7a7a" stroke-width="1.4" stroke-opacity="0.8"/>
<line x1="516.97" y1="795.7" x2="516.97" y2="803.2" stroke="#7a7a7a" stroke-width="1.4" stroke-opacity="0.8"/>
<line x1="518.16" y1="795.7" x2="518.16" y2="803.2" stroke="#7a7a7a" stroke-width="1.4" stroke-opacity="0.8"/>
<line x1="520.33" y1="795.7" x2="520.33" y2="803.2" stroke="#7a7a7a" stroke-width="1.4" stroke-opacity="0.8"/>
<line x1="524.87" y1="795.7" x2="524.87" y2="803.2" stroke="#7a7a7a" stroke-width="1.4" stroke-opacity="0.8"/>
<line x1="526.29" y1="795.7" x2="526.29" y2="803.2" stroke="#7a7a7a" stroke-width="1.4" stroke-opacity="0.8"/>
<line x1="528.28" y1="795.7" x2="528.28" y2="803.2" stroke="#7a7a7a" stroke-width="1.4" stroke-opacity="0.8"/>
<line x1="529.65" y1="795.7" x2="529.65" y2="803.2" stroke="#7a7a7a" stroke-width="1.4" stroke-opacity="0.8"/>
<line x1="530.54" y1="795.7" x2="530.54" y2="803.2" stroke="#7a7a7a" stroke-width="1.4" stroke-opacity="0.8"/>
<line x1="537.99" y1="795.7" x2="537.99" y2="803.2" stroke="#7a7a7a" stroke-width="1.4" stroke-opacity="0.8"/>
<line x1="544.57" y1="795.7" x2="544.57" y2="803.2" stroke="#7a7a7a" stroke-width="1.4" stroke-opacity="0.8"/>
<line x1="546.29" y1="795.7" x2="546.29" y2="803.2" stroke="#7a7a7a" stroke-width="1.4" stroke-opacity="0.8"/>
<line x1="547.84" y1="795.7" x2="547.84" y2="803.2" stroke="#7a7a7a" stroke-width="1.4" stroke-opacity="0.8"/>
<line x1="550.29" y1="795.7" x2="550.29" y2="803.2" stroke="#7a7a7a" stroke-width="1.4" stroke-opacity="0.8"/>
<line x1="551.92" y1="795.7" x2="551.92" y2="803.2" stroke="#7a7a7a" stroke-width="1.4" stroke-opacity="0.8"/>
<line x1="552.82" y1="795.7" x2="552.82" y2="803.2" stroke="#7a7a7a" stroke-width="1.4" stroke-opacity="0.8"/>
<line x1="554.24" y1="795.7" x2="554.24" y2="803.2" stroke="#7a7a7a" stroke-width="1.4" stroke-opacity="0.8"/>
<line x1="555.35" y1="795.7" x2="555.35" y2="803.2" stroke="#7a7a7a" stroke-width="1.4" stroke-opacity="0.8"/>
<line x1="558.23" y1="795.7" x2="558.23" y2="803.2" stroke="#7a7a7a" stroke-width="1.4" stroke-opacity="0.8"/>
<line x1="558.67" y1="795.7" x2="558.67" y2="803.2" stroke="#7a7a7a" stroke-width="1.4" stroke-opacity="0.8"/>
<line x1="561.82" y1="795.7" x2="561.82" y2="803.2" stroke="#7a7a7a" stroke-width="1.4" stroke-opacity="0.8"/>
<line x1="563.02" y1="795.7" x2="563.02" y2="803.2" stroke="#7a7a7a" stroke-width="1.4" stroke-opacity="0.8"/>
<line x1="564.49" y1="795.7" x2="564.49" y2="803.2" stroke="#7a7a7a" stroke-width="1.4" stroke-opacity="0.8"/>
<line x1="566.04" y1="795.7" x2="566.04" y2="803.2" stroke="#7a7a7a" stroke-width="1.4" stroke-opacity="0.8"/>
<line x1="569.3" y1="795.7" x2="569.3" y2="803.2" stroke="#7a7a7a" stroke-width="1.4" stroke-opacity="0.8"/>
<line x1="570.63" y1="795.7" x2="570.63" y2="803.2" stroke="#7a7a7a" stroke-width="1.4" stroke-opacity="0.8"/>
<line x1="572.98" y1="795.7" x2="572.98" y2="803.2" stroke="#7a7a7a" stroke-width="1.4" stroke-opacity="0.8"/>
<line x1="574.96" y1="795.7" x2="574.96" y2="803.2" stroke="#7a7a7a" stroke-width="1.4" stroke-opacity="0.8"/>
<line x1="576.3" y1="795.7" x2="576.3" y2="803.2" stroke="#7a7a7a" stroke-width="1.4" stroke-opacity="0.8"/>
<line x1="577.17" y1="795.7" x2="577.17" y2="803.2" stroke="#7a7a7a" stroke-width="1.4" stroke-opacity="0.8"/>
<line x1="579.52" y1="795.7" x2="579.52" y2="803.2" stroke="#7a7a7a" stroke-width="1.4" stroke-opacity="0.8"/>
<line x1="583.06" y1="795.7" x2="583.06" y2="803.2" stroke="#7a7a7a" stroke-width="1.4" stroke-opacity="0.8"/>
<line x1="584.71" y1="795.7" x2="584.71" y2="803.2" stroke="#7a7a7a" stroke-width="1.4" stroke-opacity="0.8"/>
<line x1="586.43" y1="795.7" x2="586.43" y2="803.2" stroke="#7a7a7a" stroke-width="1.4" stroke-opacity="0.8"/>
<line x1="587.76" y1="795.7" x2="587.76" y2="803.2" stroke="#7a7a7a" stroke-width="1.4" stroke-opacity="0.8"/>
<line x1="588.42" y1="795.7" x2="588.42" y2="803.2" stroke="#7a7a7a" stroke-width="1.4" stroke-opacity="0.8"/>
<line x1="590.1" y1="795.7" x2="590.1" y2="803.2" stroke="#7a7a7a" stroke-width="1.4" stroke-opacity="0.8"/>
<line x1="590.89" y1="795.7" x2="590.89" y2="803.2" stroke="#7a7a7a" stroke-width="1.4" stroke-opacity="0.8"/>
<line x1="592.14" y1="795.7" x2="592.14" y2="803.2" stroke="#7a7a7a" stroke-width="1.4" stroke-opacity="0.8"/>
<line x1="593.42" y1="795.7" x2="593.42" y2="803.2" stroke="#7a7a7a" stroke-width="1.4" stroke-opacity="0.8"/>
<line x1="595.13" y1="795.7" x2="595.13" y2="803.2" stroke="#7a7a7a" stroke-width="1.4" stroke-opacity="0.8"/>
<line x1="596.05" y1="795.7" x2="596.05" y2="803.2" stroke="#7a7a7a" stroke-width="1.4" stroke-opacity="0.8"/>
<line x1="596.93" y1="795.7" x2="596.93" y2="803.2" stroke="#7a7a7a" stroke-width="1.4" stroke-opacity="0.8"/>
<line x1="598.45" y1="795.7" x2="598.45" y2="803.2" stroke="#7a7a7a" stroke-width="1.4" stroke-opacity="0.8"/>
<line x1="599.57" y1="795.7" x2="599.57" y2="803.2" stroke="#7a7a7a" stroke-width="1.4" stroke-opacity="0.8"/>
<line x1="600.43" y1="795.7" x2="600.43" y2="803.2" stroke="#7a7a7a" stroke-width="1.4" stroke-opacity="0.8"/>
<line x1="602.17" y1="795.7" x2="602.17" y2="803.2" stroke="#7a7a7a" stroke-width="1.4" stroke-opacity="0.8"/>
<line x1="603.42" y1="795.7" x2="603.42" y2="803.2" stroke="#7a7a7a" stroke-width="1.4" stroke-opacity="0.8"/>
<line x1="604.38" y1="795.7" x2="604.38" y2="803.2" stroke="#7a7a7a" stroke-width="1.4" stroke-opacity="0.8"/>
<line x1="606" y1="795.7" x2="606" y2="803.2" stroke="#7a7a7a" stroke-width="1.4" stroke-opacity="0.8"/>
<line x1="606.09" y1="795.7" x2="606.09" y2="803.2" stroke="#7a7a7a" stroke-width="1.4" stroke-opacity="0.8"/>
<line x1="607.89" y1="795.7" x2="607.89" y2="803.2" stroke="#7a7a7a" stroke-width="1.4" stroke-opacity="0.8"/>
<line x1="609.27" y1="795.7" x2="609.27" y2="803.2" stroke="#7a7a7a" stroke-width="1.4" stroke-opacity="0.8"/>
<line x1="610.13" y1="795.7" x2="610.13" y2="803.2" stroke="#7a7a7a" stroke-width="1.4" stroke-opacity="0.8"/>
<line x1="611.14" y1="795.7" x2="611.14" y2="803.2" stroke="#7a7a7a" stroke-width="1.4" stroke-opacity="0.8"/>
<line x1="612.98" y1="795.7" x2="612.98" y2="803.2" stroke="#7a7a7a" stroke-width="1.4" stroke-opacity="0.8"/>
<line x1="613.88" y1="795.7" x2="613.88" y2="803.2" stroke="#7a7a7a" stroke-width="1.4" stroke-opacity="0.8"/>
<line x1="614.9" y1="795.7" x2="614.9" y2="803.2" stroke="#7a7a7a" stroke-width="1.4" stroke-opacity="0.8"/>
<line x1="615.84" y1="795.7" x2="615.84" y2="803.2" stroke="#7a7a7a" stroke-width="1.4" stroke-opacity="0.8"/>
<line x1="620.45" y1="795.7" x2="620.45" y2="803.2" stroke="#7a7a7a" stroke-width="1.4" stroke-opacity="0.8"/>
<line x1="621.03" y1="795.7" x2="621.03" y2="803.2" stroke="#7a7a7a" stroke-width="1.4" stroke-opacity="0.8"/>
<line x1="622.18" y1="795.7" x2="622.18" y2="803.2" stroke="#7a7a7a" stroke-width="1.4" stroke-opacity="0.8"/>
<line x1="623.82" y1="795.7" x2="623.82" y2="803.2" stroke="#7a7a7a" stroke-width="1.4" stroke-opacity="0.8"/>
<line x1="625.38" y1="795.7" x2="625.38" y2="803.2" stroke="#7a7a7a" stroke-width="1.4" stroke-opacity="0.8"/>
<line x1="627.8" y1="795.7" x2="627.8" y2="803.2" stroke="#7a7a7a" stroke-width="1.4" stroke-opacity="0.8"/>
<line x1="630.19" y1="795.7" x2="630.19" y2="803.2" stroke="#7a7a7a" stroke-width="1.4" stroke-opacity="0.8"/>
<line x1="631.37" y1="795.7" x2="631.37" y2="803.2" stroke="#7a7a7a" stroke-width="1.4" stroke-opacity="0.8"/>
<line x1="632.25" y1="795.7" x2="632.25" y2="803.2" stroke="#7a7a7a" stroke-width="1.4" stroke-opacity="0.8"/>
<line x1="633.72" y1="795.7" x2="633.72" y2="803.2" stroke="#7a7a7a" stroke-width="1.4" stroke-opacity="0.8"/>
<line x1="634.51" y1="795.7" x2="634.51" y2="803.2" stroke="#7a7a7a" stroke-width="1.4" stroke-opacity="0.8"/>
<line x1="635.73" y1="795.7" x2="635.73" y2="803.2" stroke="#7a7a7a" stroke-width="1.4" stroke-opacity="0.8"/>
<line x1="637.22" y1="795.7" x2="637.22" y2="803.2" stroke="#7a7a7a" stroke-width="1.4" stroke-opacity="0.8"/>
<line x1="638.49" y1="795.7" x2="638.49" y2="803.2" stroke="#7a7a7a" stroke-width="1.4" stroke-opacity="0.8"/>
<line x1="639.47" y1="795.7" x2="639.47" y2="803.2" stroke="#7a7a7a" stroke-width="1.4" stroke-opacity="0.8"/>
<line x1="639.68" y1="795.7" x2="639.68" y2="803.2" stroke="#7a7a7a" stroke-width="1.4" stroke-opacity="0.8"/>
<line x1="641.12" y1="795.7" x2="641.12" y2="803.2" stroke="#7a7a7a" stroke-width="1.4" stroke-opacity="0.8"/>
<line x1="642.7" y1="795.7" x2="642.7" y2="803.2" stroke="#7a7a7a" stroke-width="1.4" stroke-opacity="0.8"/>
<line x1="642.89" y1="795.7" x2="642.89" y2="803.2" stroke="#7a7a7a" stroke-width="1.4" stroke-opacity="0.8"/>
<line x1="644.15" y1="795.7" x2="644.15" y2="803.2" stroke="#7a7a7a" stroke-width="1.4" stroke-opacity="0.8"/>
<line x1="645.52" y1="795.7" x2="645.52" y2="803.2" stroke="#7a7a7a" stroke-width="1.4" stroke-opacity="0.8"/>
<line x1="646.48" y1="795.7" x2="646.48" y2="803.2" stroke="#7a7a7a" stroke-width="1.4" stroke-opacity="0.8"/>
<line x1="647.95" y1="795.7" x2="647.95" y2="803.2" stroke="#7a7a7a" stroke-width="1.4" stroke-opacity="0.8"/>
<line x1="648.98" y1="795.7" x2="648.98" y2="803.2" stroke="#7a7a7a" stroke-width="1.4" stroke-opacity="0.8"/>
<line x1="649.78" y1="795.7" x2="649.78" y2="803.2" stroke="#7a7a7a" stroke-width="1.4" stroke-opacity="0.8"/>
<line x1="650.62" y1="795.7" x2="650.62" y2="803.2" stroke="#7a7a7a" stroke-width="1.4" stroke-opacity="0.8"/>
<line x1="651.68" y1="795.7" x2="651.68" y2="803.2" stroke="#7a7a7a" stroke-width="1.4" stroke-opacity="0.8"/>
<line x1="652.79" y1="795.7" x2="652.79" y2="803.2" stroke="#7a7a7a" stroke-width="1.4" stroke-opacity="0.8"/>
<line x1="653.64" y1="795.7" x2="653.64" y2="803.2" stroke="#7a7a7a" stroke-width="1.4" stroke-opacity="0.8"/>
<line x1="655.36" y1="795.7" x2="655.36" y2="803.2" stroke="#7a7a7a" stroke-width="1.4" stroke-opacity="0.8"/>
<line x1="655.88" y1="795.7" x2="655.88" y2="803.2" stroke="#7a7a7a" stroke-width="1.4" stroke-opacity="0.8"/>
<line x1="657.74" y1="795.7" x2="657.74" y2="803.2" stroke="#7a7a7a" stroke-width="1.4" stroke-opacity="0.8"/>
<line x1="658.55" y1="795.7" x2="658.55" y2="803.2" stroke="#7a7a7a" stroke-width="1.4" stroke-opacity="0.8"/>
<line x1="658.99" y1="795.7" x2="658.99" y2="803.2" stroke="#7a7a7a" stroke-width="1.4" stroke-opacity="0.8"/>
<line x1="149" y1="1358.7" x2="149" y2="1366.2" stroke="#7a7a7a" stroke-width="1.4" stroke-opacity="0.8"/>
<line x1="151.21" y1="1358.7" x2="151.21" y2="1366.2" stroke="#7a7a7a" stroke-width="1.4" stroke-opacity="0.8"/>
<line x1="157.1" y1="1358.7" x2="157.1" y2="1366.2" stroke="#7a7a7a" stroke-width="1.4" stroke-opacity="0.8"/>
<line x1="160.47" y1="1358.7" x2="160.47" y2="1366.2" stroke="#7a7a7a" stroke-width="1.4" stroke-opacity="0.8"/>
<line x1="161.74" y1="1358.7" x2="161.74" y2="1366.2" stroke="#7a7a7a" stroke-width="1.4" stroke-opacity="0.8"/>
<line x1="170.77" y1="1358.7" x2="170.77" y2="1366.2" stroke="#7a7a7a" stroke-width="1.4" stroke-opacity="0.8"/>
<line x1="171.32" y1="1358.7" x2="171.32" y2="1366.2" stroke="#7a7a7a" stroke-width="1.4" stroke-opacity="0.8"/>
<line x1="175.07" y1="1358.7" x2="175.07" y2="1366.2" stroke="#7a7a7a" stroke-width="1.4" stroke-opacity="0.8"/>
<line x1="178.2" y1="1358.7" x2="178.2" y2="1366.2" stroke="#7a7a7a" stroke-width="1.4" stroke-opacity="0.8"/>
<line x1="180.18" y1="1358.7" x2="180.18" y2="1366.2" stroke="#7a7a7a" stroke-width="1.4" stroke-opacity="0.8"/>
<line x1="181.08" y1="1358.7" x2="181.08" y2="1366.2" stroke="#7a7a7a" stroke-width="1.4" stroke-opacity="0.8"/>
<line x1="184.08" y1="1358.7" x2="184.08" y2="1366.2" stroke="#7a7a7a" stroke-width="1.4" stroke-opacity="0.8"/>
<line x1="185.48" y1="1358.7" x2="185.48" y2="1366.2" stroke="#7a7a7a" stroke-width="1.4" stroke-opacity="0.8"/>
<line x1="188.25" y1="1358.7" x2="188.25" y2="1366.2" stroke="#7a7a7a" stroke-width="1.4" stroke-opacity="0.8"/>
<line x1="191.76" y1="1358.7" x2="191.76" y2="1366.2" stroke="#7a7a7a" stroke-width="1.4" stroke-opacity="0.8"/>
<line x1="193.96" y1="1358.7" x2="193.96" y2="1366.2" stroke="#7a7a7a" stroke-width="1.4" stroke-opacity="0.8"/>
<line x1="194.41" y1="1358.7" x2="194.41" y2="1366.2" stroke="#7a7a7a" stroke-width="1.4" stroke-opacity="0.8"/>
<line x1="197.57" y1="1358.7" x2="197.57" y2="1366.2" stroke="#7a7a7a" stroke-width="1.4" stroke-opacity="0.8"/>
<line x1="205.28" y1="1358.7" x2="205.28" y2="1366.2" stroke="#7a7a7a" stroke-width="1.4" stroke-opacity="0.8"/>
<line x1="206.35" y1="1358.7" x2="206.35" y2="1366.2" stroke="#7a7a7a" stroke-width="1.4" stroke-opacity="0.8"/>
<line x1="209.61" y1="1358.7" x2="209.61" y2="1366.2" stroke="#7a7a7a" stroke-width="1.4" stroke-opacity="0.8"/>
<line x1="215.9" y1="1358.7" x2="215.9" y2="1366.2" stroke="#7a7a7a" stroke-width="1.4" stroke-opacity="0.8"/>
<line x1="217.3" y1="1358.7" x2="217.3" y2="1366.2" stroke="#7a7a7a" stroke-width="1.4" stroke-opacity="0.8"/>
<line x1="219.02" y1="1358.7" x2="219.02" y2="1366.2" stroke="#7a7a7a" stroke-width="1.4" stroke-opacity="0.8"/>
<line x1="222.18" y1="1358.7" x2="222.18" y2="1366.2" stroke="#7a7a7a" stroke-width="1.4" stroke-opacity="0.8"/>
<line x1="223.59" y1="1358.7" x2="223.59" y2="1366.2" stroke="#7a7a7a" stroke-width="1.4" stroke-opacity="0.8"/>
<line x1="225.03" y1="1358.7" x2="225.03" y2="1366.2" stroke="#7a7a7a" stroke-width="1.4" stroke-opacity="0.8"/>
<line x1="227.34" y1="1358.7" x2="227.34" y2="1366.2" stroke="#7a7a7a" stroke-width="1.4" stroke-opacity="0.8"/>
<line x1="229.21" y1="1358.7" x2="229.21" y2="1366.2" stroke="#7a7a7a" stroke-width="1.4" stroke-opacity="0.8"/>
<line x1="236.68" y1="1358.7" x2="236.68" y2="1366.2" stroke="#7a7a7a" stroke-width="1.4" stroke-opacity="0.8"/>
<line x1="238.02" y1="1358.7" x2="238.02" y2="1366.2" stroke="#7a7a7a" stroke-width="1.4" stroke-opacity="0.8"/>
<line x1="240.39" y1="1358.7" x2="240.39" y2="1366.2" stroke="#7a7a7a" stroke-width="1.4" stroke-opacity="0.8"/>
<line x1="242.63" y1="1358.7" x2="242.63" y2="1366.2" stroke="#7a7a7a" stroke-width="1.4" stroke-opacity="0.8"/>
<line x1="244.95" y1="1358.7" x2="244.95" y2="1366.2" stroke="#7a7a7a" stroke-width="1.4" stroke-opacity="0.8"/>
<line x1="250.48" y1="1358.7" x2="250.48" y2="1366.2" stroke="#7a7a7a" stroke-width="1.4" stroke-opacity="0.8"/>
<line x1="253.51" y1="1358.7" x2="253.51" y2="1366.2" stroke="#7a7a7a" stroke-width="1.4" stroke-opacity="0.8"/>
<line x1="257.19" y1="1358.7" x2="257.19" y2="1366.2" stroke="#7a7a7a" stroke-width="1.4" stroke-opacity="0.8"/>
<line x1="259.4" y1="1358.7" x2="259.4" y2="1366.2" stroke="#7a7a7a" stroke-width="1.4" stroke-opacity="0.8"/>
<line x1="263.9" y1="1358.7" x2="263.9" y2="1366.2" stroke="#7a7a7a" stroke-width="1.4" stroke-opacity="0.8"/>
<line x1="266.86" y1="1358.7" x2="266.86" y2="1366.2" stroke="#7a7a7a" stroke-width="1.4" stroke-opacity="0.8"/>
<line x1="268.12" y1="1358.7" x2="268.12" y2="1366.2" stroke="#7a7a7a" stroke-width="1.4" stroke-opacity="0.8"/>
<line x1="273.36" y1="1358.7" x2="273.36" y2="1366.2" stroke="#7a7a7a" stroke-width="1.4" stroke-opacity="0.8"/>
<line x1="275.31" y1="1358.7" x2="275.31" y2="1366.2" stroke="#7a7a7a" stroke-width="1.4" stroke-opacity="0.8"/>
<line x1="278.24" y1="1358.7" x2="278.24" y2="1366.2" stroke="#7a7a7a" stroke-width="1.4" stroke-opacity="0.8"/>
<line x1="280.12" y1="1358.7" x2="280.12" y2="1366.2" stroke="#7a7a7a" stroke-width="1.4" stroke-opacity="0.8"/>
<line x1="282.94" y1="1358.7" x2="282.94" y2="1366.2" stroke="#7a7a7a" stroke-width="1.4" stroke-opacity="0.8"/>
<line x1="298.42" y1="1358.7" x2="298.42" y2="1366.2" stroke="#7a7a7a" stroke-width="1.4" stroke-opacity="0.8"/>
<line x1="298.88" y1="1358.7" x2="298.88" y2="1366.2" stroke="#7a7a7a" stroke-width="1.4" stroke-opacity="0.8"/>
<line x1="305.56" y1="1358.7" x2="305.56" y2="1366.2" stroke="#7a7a7a" stroke-width="1.4" stroke-opacity="0.8"/>
<line x1="311.86" y1="1358.7" x2="311.86" y2="1366.2" stroke="#7a7a7a" stroke-width="1.4" stroke-opacity="0.8"/>
<line x1="320.2" y1="1358.7" x2="320.2" y2="1366.2" stroke="#7a7a7a" stroke-width="1.4" stroke-opacity="0.8"/>
<line x1="322.05" y1="1358.7" x2="322.05" y2="1366.2" stroke="#7a7a7a" stroke-width="1.4" stroke-opacity="0.8"/>
<line x1="334.81" y1="1358.7" x2="334.81" y2="1366.2" stroke="#7a7a7a" stroke-width="1.4" stroke-opacity="0.8"/>
<line x1="335.42" y1="1358.7" x2="335.42" y2="1366.2" stroke="#7a7a7a" stroke-width="1.4" stroke-opacity="0.8"/>
<line x1="339.97" y1="1358.7" x2="339.97" y2="1366.2" stroke="#7a7a7a" stroke-width="1.4" stroke-opacity="0.8"/>
<line x1="341.71" y1="1358.7" x2="341.71" y2="1366.2" stroke="#7a7a7a" stroke-width="1.4" stroke-opacity="0.8"/>
<line x1="344.36" y1="1358.7" x2="344.36" y2="1366.2" stroke="#7a7a7a" stroke-width="1.4" stroke-opacity="0.8"/>
<line x1="346.77" y1="1358.7" x2="346.77" y2="1366.2" stroke="#7a7a7a" stroke-width="1.4" stroke-opacity="0.8"/>
<line x1="347.41" y1="1358.7" x2="347.41" y2="1366.2" stroke="#7a7a7a" stroke-width="1.4" stroke-opacity="0.8"/>
<line x1="349.7" y1="1358.7" x2="349.7" y2="1366.2" stroke="#7a7a7a" stroke-width="1.4" stroke-opacity="0.8"/>
<line x1="352.33" y1="1358.7" x2="352.33" y2="1366.2" stroke="#7a7a7a" stroke-width="1.4" stroke-opacity="0.8"/>
<line x1="355.47" y1="1358.7" x2="355.47" y2="1366.2" stroke="#7a7a7a" stroke-width="1.4" stroke-opacity="0.8"/>
<line x1="358.85" y1="1358.7" x2="358.85" y2="1366.2" stroke="#7a7a7a" stroke-width="1.4" stroke-opacity="0.8"/>
<line x1="367" y1="1358.7" x2="367" y2="1366.2" stroke="#7a7a7a" stroke-width="1.4" stroke-opacity="0.8"/>
<line x1="368.11" y1="1358.7" x2="368.11" y2="1366.2" stroke="#7a7a7a" stroke-width="1.4" stroke-opacity="0.8"/>
<line x1="370.77" y1="1358.7" x2="370.77" y2="1366.2" stroke="#7a7a7a" stroke-width="1.4" stroke-opacity="0.8"/>
<line x1="373.23" y1="1358.7" x2="373.23" y2="1366.2" stroke="#7a7a7a" stroke-width="1.4" stroke-opacity="0.8"/>
<line x1="374.53" y1="1358.7" x2="374.53" y2="1366.2" stroke="#7a7a7a" stroke-width="1.4" stroke-opacity="0.8"/>
<line x1="381.97" y1="1358.7" x2="381.97" y2="1366.2" stroke="#7a7a7a" stroke-width="1.4" stroke-opacity="0.8"/>
<line x1="389.88" y1="1358.7" x2="389.88" y2="1366.2" stroke="#7a7a7a" stroke-width="1.4" stroke-opacity="0.8"/>
<line x1="391.45" y1="1358.7" x2="391.45" y2="1366.2" stroke="#7a7a7a" stroke-width="1.4" stroke-opacity="0.8"/>
<line x1="393.8" y1="1358.7" x2="393.8" y2="1366.2" stroke="#7a7a7a" stroke-width="1.4" stroke-opacity="0.8"/>
<line x1="395.6" y1="1358.7" x2="395.6" y2="1366.2" stroke="#7a7a7a" stroke-width="1.4" stroke-opacity="0.8"/>
<line x1="397.3" y1="1358.7" x2="397.3" y2="1366.2" stroke="#7a7a7a" stroke-width="1.4" stroke-opacity="0.8"/>
<line x1="398.64" y1="1358.7" x2="398.64" y2="1366.2" stroke="#7a7a7a" stroke-width="1.4" stroke-opacity="0.8"/>
<line x1="410.56" y1="1358.7" x2="410.56" y2="1366.2" stroke="#7a7a7a" stroke-width="1.4" stroke-opacity="0.8"/>
<line x1="412.48" y1="1358.7" x2="412.48" y2="1366.2" stroke="#7a7a7a" stroke-width="1.4" stroke-opacity="0.8"/>
<line x1="422.06" y1="1358.7" x2="422.06" y2="1366.2" stroke="#7a7a7a" stroke-width="1.4" stroke-opacity="0.8"/>
<line x1="433.12" y1="1358.7" x2="433.12" y2="1366.2" stroke="#7a7a7a" stroke-width="1.4" stroke-opacity="0.8"/>
<line x1="433.97" y1="1358.7" x2="433.97" y2="1366.2" stroke="#7a7a7a" stroke-width="1.4" stroke-opacity="0.8"/>
<line x1="435.63" y1="1358.7" x2="435.63" y2="1366.2" stroke="#7a7a7a" stroke-width="1.4" stroke-opacity="0.8"/>
<line x1="438.58" y1="1358.7" x2="438.58" y2="1366.2" stroke="#7a7a7a" stroke-width="1.4" stroke-opacity="0.8"/>
<line x1="440.38" y1="1358.7" x2="440.38" y2="1366.2" stroke="#7a7a7a" stroke-width="1.4" stroke-opacity="0.8"/>
<line x1="443.45" y1="1358.7" x2="443.45" y2="1366.2" stroke="#7a7a7a" stroke-width="1.4" stroke-opacity="0.8"/>
<line x1="445.47" y1="1358.7" x2="445.47" y2="1366.2" stroke="#7a7a7a" stroke-width="1.4" stroke-opacity="0.8"/>
<line x1="453.35" y1="1358.7" x2="453.35" y2="1366.2" stroke="#7a7a7a" stroke-width="1.4" stroke-opacity="0.8"/>
<line x1="455.95" y1="1358.7" x2="455.95" y2="1366.2" stroke="#7a7a7a" stroke-width="1.4" stroke-opacity="0.8"/>
<line x1="471.96" y1="1358.7" x2="471.96" y2="1366.2" stroke="#7a7a7a" stroke-width="1.4" stroke-opacity="0.8"/>
<line x1="474.13" y1="1358.7" x2="474.13" y2="1366.2" stroke="#7a7a7a" stroke-width="1.4" stroke-opacity="0.8"/>
<line x1="477.51" y1="1358.7" x2="477.51" y2="1366.2" stroke="#7a7a7a" stroke-width="1.4" stroke-opacity="0.8"/>
<line x1="478.65" y1="1358.7" x2="478.65" y2="1366.2" stroke="#7a7a7a" stroke-width="1.4" stroke-opacity="0.8"/>
<line x1="481.5" y1="1358.7" x2="481.5" y2="1366.2" stroke="#7a7a7a" stroke-width="1.4" stroke-opacity="0.8"/>
<line x1="484.59" y1="1358.7" x2="484.59" y2="1366.2" stroke="#7a7a7a" stroke-width="1.4" stroke-opacity="0.8"/>
<line x1="487.09" y1="1358.7" x2="487.09" y2="1366.2" stroke="#7a7a7a" stroke-width="1.4" stroke-opacity="0.8"/>
<line x1="488.05" y1="1358.7" x2="488.05" y2="1366.2" stroke="#7a7a7a" stroke-width="1.4" stroke-opacity="0.8"/>
<line x1="489.59" y1="1358.7" x2="489.59" y2="1366.2" stroke="#7a7a7a" stroke-width="1.4" stroke-opacity="0.8"/>
<line x1="494.01" y1="1358.7" x2="494.01" y2="1366.2" stroke="#7a7a7a" stroke-width="1.4" stroke-opacity="0.8"/>
<line x1="495.31" y1="1358.7" x2="495.31" y2="1366.2" stroke="#7a7a7a" stroke-width="1.4" stroke-opacity="0.8"/>
<line x1="496.94" y1="1358.7" x2="496.94" y2="1366.2" stroke="#7a7a7a" stroke-width="1.4" stroke-opacity="0.8"/>
<line x1="499.05" y1="1358.7" x2="499.05" y2="1366.2" stroke="#7a7a7a" stroke-width="1.4" stroke-opacity="0.8"/>
<line x1="501.62" y1="1358.7" x2="501.62" y2="1366.2" stroke="#7a7a7a" stroke-width="1.4" stroke-opacity="0.8"/>
<line x1="504.09" y1="1358.7" x2="504.09" y2="1366.2" stroke="#7a7a7a" stroke-width="1.4" stroke-opacity="0.8"/>
<line x1="506.01" y1="1358.7" x2="506.01" y2="1366.2" stroke="#7a7a7a" stroke-width="1.4" stroke-opacity="0.8"/>
<line x1="522.14" y1="1358.7" x2="522.14" y2="1366.2" stroke="#7a7a7a" stroke-width="1.4" stroke-opacity="0.8"/>
<line x1="527.58" y1="1358.7" x2="527.58" y2="1366.2" stroke="#7a7a7a" stroke-width="1.4" stroke-opacity="0.8"/>
<line x1="529.9" y1="1358.7" x2="529.9" y2="1366.2" stroke="#7a7a7a" stroke-width="1.4" stroke-opacity="0.8"/>
<line x1="530.72" y1="1358.7" x2="530.72" y2="1366.2" stroke="#7a7a7a" stroke-width="1.4" stroke-opacity="0.8"/>
<line x1="534.55" y1="1358.7" x2="534.55" y2="1366.2" stroke="#7a7a7a" stroke-width="1.4" stroke-opacity="0.8"/>
<line x1="545.87" y1="1358.7" x2="545.87" y2="1366.2" stroke="#7a7a7a" stroke-width="1.4" stroke-opacity="0.8"/>
<line x1="547.51" y1="1358.7" x2="547.51" y2="1366.2" stroke="#7a7a7a" stroke-width="1.4" stroke-opacity="0.8"/>
<line x1="548.83" y1="1358.7" x2="548.83" y2="1366.2" stroke="#7a7a7a" stroke-width="1.4" stroke-opacity="0.8"/>
<line x1="561.34" y1="1358.7" x2="561.34" y2="1366.2" stroke="#7a7a7a" stroke-width="1.4" stroke-opacity="0.8"/>
<line x1="572.89" y1="1358.7" x2="572.89" y2="1366.2" stroke="#7a7a7a" stroke-width="1.4" stroke-opacity="0.8"/>
<line x1="576.47" y1="1358.7" x2="576.47" y2="1366.2" stroke="#7a7a7a" stroke-width="1.4" stroke-opacity="0.8"/>
<line x1="578.03" y1="1358.7" x2="578.03" y2="1366.2" stroke="#7a7a7a" stroke-width="1.4" stroke-opacity="0.8"/>
<line x1="595.46" y1="1358.7" x2="595.46" y2="1366.2" stroke="#7a7a7a" stroke-width="1.4" stroke-opacity="0.8"/>
<line x1="607.63" y1="1358.7" x2="607.63" y2="1366.2" stroke="#7a7a7a" stroke-width="1.4" stroke-opacity="0.8"/>
<line x1="617.05" y1="1358.7" x2="617.05" y2="1366.2" stroke="#7a7a7a" stroke-width="1.4" stroke-opacity="0.8"/>
<line x1="623.69" y1="1358.7" x2="623.69" y2="1366.2" stroke="#7a7a7a" stroke-width="1.4" stroke-opacity="0.8"/>
<polyline points="163.69,1342.08 215.87,1307.51 268.05,1276.08 320.23,1212.7 372.41,1212.7 424.59,1060.8 476.77,1015.22 528.95,914.13 581.13,854.94 633.31,834.51" fill="none" stroke="#000" stroke-width="2.4" stroke-linejoin="round"/>
<circle cx="176.74" cy="1333.43" r="2.1" fill="#000"/>
<circle cx="189.78" cy="1324.79" r="2.1" fill="#000"/>
<circle cx="202.82" cy="1316.15" r="2.1" fill="#000"/>
<circle cx="228.91" cy="1299.65" r="2.1" fill="#000"/>
<circle cx="241.96" cy="1291.79" r="2.1" fill="#000"/>
<circle cx="255" cy="1283.93" r="2.1" fill="#000"/>
<circle cx="281.09" cy="1260.23" r="2.1" fill="#000"/>
<circle cx="294.14" cy="1244.39" r="2.1" fill="#000"/>
<circle cx="307.19" cy="1228.54" r="2.1" fill="#000"/>
<circle cx="333.27" cy="1212.7" r="2.1" fill="#000"/>
<circle cx="346.32" cy="1212.7" r="2.1" fill="#000"/>
<circle cx="359.37" cy="1212.7" r="2.1" fill="#000"/>
<circle cx="385.45" cy="1174.72" r="2.1" fill="#000"/>
<circle cx="398.5" cy="1136.75" r="2.1" fill="#000"/>
<circle cx="411.55" cy="1098.77" r="2.1" fill="#000"/>
<circle cx="437.63" cy="1049.4" r="2.1" fill="#000"/>
<circle cx="450.68" cy="1038.01" r="2.1" fill="#000"/>
<circle cx="463.73" cy="1026.62" r="2.1" fill="#000"/>
<circle cx="489.81" cy="989.95" r="2.1" fill="#000"/>
<circle cx="502.86" cy="964.68" r="2.1" fill="#000"/>
<circle cx="515.9" cy="939.4" r="2.1" fill="#000"/>
<circle cx="542" cy="899.33" r="2.1" fill="#000"/>
<circle cx="555.04" cy="884.54" r="2.1" fill="#000"/>
<circle cx="568.09" cy="869.74" r="2.1" fill="#000"/>
<circle cx="594.17" cy="849.84" r="2.1" fill="#000"/>
<circle cx="607.22" cy="844.73" r="2.1" fill="#000"/>
<circle cx="620.26" cy="839.62" r="2.1" fill="#000"/>
<rect x="158.94" y="1337.33" width="9.5" height="9.5" fill="#000" rx="2.5"/>
<rect x="211.12" y="1302.76" width="9.5" height="9.5" fill="#000" rx="2.5"/>
<rect x="263.3" y="1271.33" width="9.5" height="9.5" fill="#000" rx="2.5"/>
<rect x="315.48" y="1207.95" width="9.5" height="9.5" fill="#000" rx="2.5"/>
<rect x="367.66" y="1207.95" width="9.5" height="9.5" fill="#000" rx="2.5"/>
<rect x="419.84" y="1056.05" width="9.5" height="9.5" fill="#000" rx="2.5"/>
<rect x="472.02" y="1010.47" width="9.5" height="9.5" fill="#000" rx="2.5"/>
<rect x="524.2" y="909.38" width="9.5" height="9.5" fill="#000" rx="2.5"/>
<rect x="576.38" y="850.19" width="9.5" height="9.5" fill="#000" rx="2.5"/>
<rect x="628.56" y="829.76" width="9.5" height="9.5" fill="#000" rx="2.5"/>
</g>
<line x1="104.8" y1="1342.6" x2="108.8" y2="1342.6" stroke="#9a9a9a" stroke-width="1.3"/>
<line x1="137.6" y1="1369.8" x2="137.6" y2="1373.8" stroke="#9a9a9a" stroke-width="1.3"/>
<line x1="104.8" y1="1211.65" x2="108.8" y2="1211.65" stroke="#9a9a9a" stroke-width="1.3"/>
<line x1="268.05" y1="1369.8" x2="268.05" y2="1373.8" stroke="#9a9a9a" stroke-width="1.3"/>
<line x1="104.8" y1="1080.7" x2="108.8" y2="1080.7" stroke="#9a9a9a" stroke-width="1.3"/>
<line x1="398.5" y1="1369.8" x2="398.5" y2="1373.8" stroke="#9a9a9a" stroke-width="1.3"/>
<line x1="104.8" y1="949.75" x2="108.8" y2="949.75" stroke="#9a9a9a" stroke-width="1.3"/>
<line x1="528.95" y1="1369.8" x2="528.95" y2="1373.8" stroke="#9a9a9a" stroke-width="1.3"/>
<line x1="104.8" y1="818.8" x2="108.8" y2="818.8" stroke="#9a9a9a" stroke-width="1.3"/>
<line x1="659.4" y1="1369.8" x2="659.4" y2="1373.8" stroke="#9a9a9a" stroke-width="1.3"/>
<rect x="110.6" y="793.9" width="575" height="574.1" fill="none" stroke="#000" stroke-width="3.6"/>
<text x="658.3" y="1340.1" font-size="30.1" text-anchor="end" font-weight="normal" fill="#000">Calibration of RF model</text>
<text x="97.5" y="827.1" font-size="26.5" text-anchor="end" font-weight="normal" fill="#000">1.0</text>
<text x="97.5" y="960.1" font-size="26.5" text-anchor="end" font-weight="normal" fill="#000">0.75</text>
<text x="97.5" y="1089.6" font-size="26.5" text-anchor="end" font-weight="normal" fill="#000">0.5</text>
<text x="97.5" y="1220.6" font-size="26.5" text-anchor="end" font-weight="normal" fill="#000">0.25</text>
<text x="97.5" y="1353" font-size="26.5" text-anchor="end" font-weight="normal" fill="#000">0</text>
<text x="137.8" y="1399.2" font-size="26.5" text-anchor="middle" font-weight="normal" fill="#000">0</text>
<text x="272.4" y="1399.2" font-size="26.5" text-anchor="middle" font-weight="normal" fill="#000">0.25</text>
<text x="399.2" y="1399.2" font-size="26.5" text-anchor="middle" font-weight="normal" fill="#000">0.5</text>
<text x="539.6" y="1399.2" font-size="26.5" text-anchor="middle" font-weight="normal" fill="#000">0.75</text>
<text x="662.2" y="1399.2" font-size="26.5" text-anchor="middle" font-weight="normal" fill="#000">1.0</text>
<text x="310.9" y="773.7" font-size="39.15" text-anchor="start" font-weight="normal" fill="#000" class="hv">Testing set</text>
<text class="hv" transform="translate(45.3,1086.4) rotate(-90) scale(1,1.06)" x="0" y="0" font-size="38.3" text-anchor="middle">Event Rate</text>
<text x="406.5" y="1442.2" font-size="35.5" text-anchor="middle" font-weight="normal" fill="#000">Bin Midpoint</text>
<defs><clipPath id="clipD"><rect x="843" y="794.9" width="571.7" height="570.6"/></clipPath></defs>
<g clip-path="url(#clipD)">
<line x1="932.75" y1="794.9" x2="932.75" y2="1365.5" stroke="#ececec" stroke-width="1.2"/>
<line x1="843" y1="1275.94" x2="1414.7" y2="1275.94" stroke="#ececec" stroke-width="1.2"/>
<line x1="1063.05" y1="794.9" x2="1063.05" y2="1365.5" stroke="#ececec" stroke-width="1.2"/>
<line x1="843" y1="1145.81" x2="1414.7" y2="1145.81" stroke="#ececec" stroke-width="1.2"/>
<line x1="1193.35" y1="794.9" x2="1193.35" y2="1365.5" stroke="#ececec" stroke-width="1.2"/>
<line x1="843" y1="1015.69" x2="1414.7" y2="1015.69" stroke="#ececec" stroke-width="1.2"/>
<line x1="1323.65" y1="794.9" x2="1323.65" y2="1365.5" stroke="#ececec" stroke-width="1.2"/>
<line x1="843" y1="885.56" x2="1414.7" y2="885.56" stroke="#ececec" stroke-width="1.2"/>
<line x1="867.6" y1="794.9" x2="867.6" y2="1365.5" stroke="#dcdcdc" stroke-width="1.9"/>
<line x1="843" y1="1341" x2="1414.7" y2="1341" stroke="#dcdcdc" stroke-width="1.9"/>
<line x1="997.9" y1="794.9" x2="997.9" y2="1365.5" stroke="#dcdcdc" stroke-width="1.9"/>
<line x1="843" y1="1210.88" x2="1414.7" y2="1210.88" stroke="#dcdcdc" stroke-width="1.9"/>
<line x1="1128.2" y1="794.9" x2="1128.2" y2="1365.5" stroke="#dcdcdc" stroke-width="1.9"/>
<line x1="843" y1="1080.75" x2="1414.7" y2="1080.75" stroke="#dcdcdc" stroke-width="1.9"/>
<line x1="1258.5" y1="794.9" x2="1258.5" y2="1365.5" stroke="#dcdcdc" stroke-width="1.9"/>
<line x1="843" y1="950.62" x2="1414.7" y2="950.62" stroke="#dcdcdc" stroke-width="1.9"/>
<line x1="1388.8" y1="794.9" x2="1388.8" y2="1365.5" stroke="#dcdcdc" stroke-width="1.9"/>
<polygon points="893.66,1229.09 945.78,1132.8 997.9,1058.89 1050.02,1149.98 1102.14,1068.78 1154.26,1009.44 1206.38,929.28 1258.5,935.01 1310.62,853.29 1362.74,826.75 1362.74,857.46 1310.62,930.85 1258.5,1067.22 1206.38,1071.38 1154.26,1178.6 1102.14,1257.2 1050.02,1320.18 997.9,1276.98 945.78,1337.88 893.66,1339.44" fill="#e9e9e9" fill-opacity="0.7"/>
<line x1="843" y1="1365.57" x2="1414.7" y2="794.63" stroke="#6a6a6a" stroke-width="1.7" stroke-dasharray="6.5 10.3"/>
<line x1="885.14" y1="794.9" x2="885.14" y2="800.9" stroke="#7a7a7a" stroke-width="1.4" stroke-opacity="0.8"/>
<line x1="950.63" y1="794.9" x2="950.63" y2="800.9" stroke="#7a7a7a" stroke-width="1.4" stroke-opacity="0.8"/>
<line x1="982.04" y1="794.9" x2="982.04" y2="800.9" stroke="#7a7a7a" stroke-width="1.4" stroke-opacity="0.8"/>
<line x1="983.19" y1="794.9" x2="983.19" y2="800.9" stroke="#7a7a7a" stroke-width="1.4" stroke-opacity="0.8"/>
<line x1="994.3" y1="794.9" x2="994.3" y2="800.9" stroke="#7a7a7a" stroke-width="1.4" stroke-opacity="0.8"/>
<line x1="996.78" y1="794.9" x2="996.78" y2="800.9" stroke="#7a7a7a" stroke-width="1.4" stroke-opacity="0.8"/>
<line x1="1010.82" y1="794.9" x2="1010.82" y2="800.9" stroke="#7a7a7a" stroke-width="1.4" stroke-opacity="0.8"/>
<line x1="1011.37" y1="794.9" x2="1011.37" y2="800.9" stroke="#7a7a7a" stroke-width="1.4" stroke-opacity="0.8"/>
<line x1="1020.3" y1="794.9" x2="1020.3" y2="800.9" stroke="#7a7a7a" stroke-width="1.4" stroke-opacity="0.8"/>
<line x1="1026.62" y1="794.9" x2="1026.62" y2="800.9" stroke="#7a7a7a" stroke-width="1.4" stroke-opacity="0.8"/>
<line x1="1043.76" y1="794.9" x2="1043.76" y2="800.9" stroke="#7a7a7a" stroke-width="1.4" stroke-opacity="0.8"/>
<line x1="1045.95" y1="794.9" x2="1045.95" y2="800.9" stroke="#7a7a7a" stroke-width="1.4" stroke-opacity="0.8"/>
<line x1="1061.06" y1="794.9" x2="1061.06" y2="800.9" stroke="#7a7a7a" stroke-width="1.4" stroke-opacity="0.8"/>
<line x1="1079.45" y1="794.9" x2="1079.45" y2="800.9" stroke="#7a7a7a" stroke-width="1.4" stroke-opacity="0.8"/>
<line x1="1087.89" y1="794.9" x2="1087.89" y2="800.9" stroke="#7a7a7a" stroke-width="1.4" stroke-opacity="0.8"/>
<line x1="1089.27" y1="794.9" x2="1089.27" y2="800.9" stroke="#7a7a7a" stroke-width="1.4" stroke-opacity="0.8"/>
<line x1="1105.3" y1="794.9" x2="1105.3" y2="800.9" stroke="#7a7a7a" stroke-width="1.4" stroke-opacity="0.8"/>
<line x1="1117.62" y1="794.9" x2="1117.62" y2="800.9" stroke="#7a7a7a" stroke-width="1.4" stroke-opacity="0.8"/>
<line x1="1119.99" y1="794.9" x2="1119.99" y2="800.9" stroke="#7a7a7a" stroke-width="1.4" stroke-opacity="0.8"/>
<line x1="1126.15" y1="794.9" x2="1126.15" y2="800.9" stroke="#7a7a7a" stroke-width="1.4" stroke-opacity="0.8"/>
<line x1="1130.5" y1="794.9" x2="1130.5" y2="800.9" stroke="#7a7a7a" stroke-width="1.4" stroke-opacity="0.8"/>
<line x1="1133.66" y1="794.9" x2="1133.66" y2="800.9" stroke="#7a7a7a" stroke-width="1.4" stroke-opacity="0.8"/>
<line x1="1135.59" y1="794.9" x2="1135.59" y2="800.9" stroke="#7a7a7a" stroke-width="1.4" stroke-opacity="0.8"/>
<line x1="1139.57" y1="794.9" x2="1139.57" y2="800.9" stroke="#7a7a7a" stroke-width="1.4" stroke-opacity="0.8"/>
<line x1="1150.93" y1="794.9" x2="1150.93" y2="800.9" stroke="#7a7a7a" stroke-width="1.4" stroke-opacity="0.8"/>
<line x1="1165.6" y1="794.9" x2="1165.6" y2="800.9" stroke="#7a7a7a" stroke-width="1.4" stroke-opacity="0.8"/>
<line x1="1168.83" y1="794.9" x2="1168.83" y2="800.9" stroke="#7a7a7a" stroke-width="1.4" stroke-opacity="0.8"/>
<line x1="1170.09" y1="794.9" x2="1170.09" y2="800.9" stroke="#7a7a7a" stroke-width="1.4" stroke-opacity="0.8"/>
<line x1="1172.79" y1="794.9" x2="1172.79" y2="800.9" stroke="#7a7a7a" stroke-width="1.4" stroke-opacity="0.8"/>
<line x1="1178.32" y1="794.9" x2="1178.32" y2="800.9" stroke="#7a7a7a" stroke-width="1.4" stroke-opacity="0.8"/>
<line x1="1179.19" y1="794.9" x2="1179.19" y2="800.9" stroke="#7a7a7a" stroke-width="1.4" stroke-opacity="0.8"/>
<line x1="1181.86" y1="794.9" x2="1181.86" y2="800.9" stroke="#7a7a7a" stroke-width="1.4" stroke-opacity="0.8"/>
<line x1="1186.7" y1="794.9" x2="1186.7" y2="800.9" stroke="#7a7a7a" stroke-width="1.4" stroke-opacity="0.8"/>
<line x1="1193.06" y1="794.9" x2="1193.06" y2="800.9" stroke="#7a7a7a" stroke-width="1.4" stroke-opacity="0.8"/>
<line x1="1194.09" y1="794.9" x2="1194.09" y2="800.9" stroke="#7a7a7a" stroke-width="1.4" stroke-opacity="0.8"/>
<line x1="1197.38" y1="794.9" x2="1197.38" y2="800.9" stroke="#7a7a7a" stroke-width="1.4" stroke-opacity="0.8"/>
<line x1="1199.92" y1="794.9" x2="1199.92" y2="800.9" stroke="#7a7a7a" stroke-width="1.4" stroke-opacity="0.8"/>
<line x1="1202.75" y1="794.9" x2="1202.75" y2="800.9" stroke="#7a7a7a" stroke-width="1.4" stroke-opacity="0.8"/>
<line x1="1204.77" y1="794.9" x2="1204.77" y2="800.9" stroke="#7a7a7a" stroke-width="1.4" stroke-opacity="0.8"/>
<line x1="1208.94" y1="794.9" x2="1208.94" y2="800.9" stroke="#7a7a7a" stroke-width="1.4" stroke-opacity="0.8"/>
<line x1="1211.09" y1="794.9" x2="1211.09" y2="800.9" stroke="#7a7a7a" stroke-width="1.4" stroke-opacity="0.8"/>
<line x1="1219.18" y1="794.9" x2="1219.18" y2="800.9" stroke="#7a7a7a" stroke-width="1.4" stroke-opacity="0.8"/>
<line x1="1221.56" y1="794.9" x2="1221.56" y2="800.9" stroke="#7a7a7a" stroke-width="1.4" stroke-opacity="0.8"/>
<line x1="1224.33" y1="794.9" x2="1224.33" y2="800.9" stroke="#7a7a7a" stroke-width="1.4" stroke-opacity="0.8"/>
<line x1="1227.1" y1="794.9" x2="1227.1" y2="800.9" stroke="#7a7a7a" stroke-width="1.4" stroke-opacity="0.8"/>
<line x1="1232.62" y1="794.9" x2="1232.62" y2="800.9" stroke="#7a7a7a" stroke-width="1.4" stroke-opacity="0.8"/>
<line x1="1235.24" y1="794.9" x2="1235.24" y2="800.9" stroke="#7a7a7a" stroke-width="1.4" stroke-opacity="0.8"/>
<line x1="1244.36" y1="794.9" x2="1244.36" y2="800.9" stroke="#7a7a7a" stroke-width="1.4" stroke-opacity="0.8"/>
<line x1="1245.73" y1="794.9" x2="1245.73" y2="800.9" stroke="#7a7a7a" stroke-width="1.4" stroke-opacity="0.8"/>
<line x1="1248.22" y1="794.9" x2="1248.22" y2="800.9" stroke="#7a7a7a" stroke-width="1.4" stroke-opacity="0.8"/>
<line x1="1250.58" y1="794.9" x2="1250.58" y2="800.9" stroke="#7a7a7a" stroke-width="1.4" stroke-opacity="0.8"/>
<line x1="1253.48" y1="794.9" x2="1253.48" y2="800.9" stroke="#7a7a7a" stroke-width="1.4" stroke-opacity="0.8"/>
<line x1="1255.28" y1="794.9" x2="1255.28" y2="800.9" stroke="#7a7a7a" stroke-width="1.4" stroke-opacity="0.8"/>
<line x1="1258.24" y1="794.9" x2="1258.24" y2="800.9" stroke="#7a7a7a" stroke-width="1.4" stroke-opacity="0.8"/>
<line x1="1262.38" y1="794.9" x2="1262.38" y2="800.9" stroke="#7a7a7a" stroke-width="1.4" stroke-opacity="0.8"/>
<line x1="1264.22" y1="794.9" x2="1264.22" y2="800.9" stroke="#7a7a7a" stroke-width="1.4" stroke-opacity="0.8"/>
<line x1="1266.95" y1="794.9" x2="1266.95" y2="800.9" stroke="#7a7a7a" stroke-width="1.4" stroke-opacity="0.8"/>
<line x1="1268.44" y1="794.9" x2="1268.44" y2="800.9" stroke="#7a7a7a" stroke-width="1.4" stroke-opacity="0.8"/>
<line x1="1270.34" y1="794.9" x2="1270.34" y2="800.9" stroke="#7a7a7a" stroke-width="1.4" stroke-opacity="0.8"/>
<line x1="1271.99" y1="794.9" x2="1271.99" y2="800.9" stroke="#7a7a7a" stroke-width="1.4" stroke-opacity="0.8"/>
<line x1="1274.19" y1="794.9" x2="1274.19" y2="800.9" stroke="#7a7a7a" stroke-width="1.4" stroke-opacity="0.8"/>
<line x1="1276.51" y1="794.9" x2="1276.51" y2="800.9" stroke="#7a7a7a" stroke-width="1.4" stroke-opacity="0.8"/>
<line x1="1277.48" y1="794.9" x2="1277.48" y2="800.9" stroke="#7a7a7a" stroke-width="1.4" stroke-opacity="0.8"/>
<line x1="1278.9" y1="794.9" x2="1278.9" y2="800.9" stroke="#7a7a7a" stroke-width="1.4" stroke-opacity="0.8"/>
<line x1="1281.53" y1="794.9" x2="1281.53" y2="800.9" stroke="#7a7a7a" stroke-width="1.4" stroke-opacity="0.8"/>
<line x1="1283.21" y1="794.9" x2="1283.21" y2="800.9" stroke="#7a7a7a" stroke-width="1.4" stroke-opacity="0.8"/>
<line x1="1285.82" y1="794.9" x2="1285.82" y2="800.9" stroke="#7a7a7a" stroke-width="1.4" stroke-opacity="0.8"/>
<line x1="1286.43" y1="794.9" x2="1286.43" y2="800.9" stroke="#7a7a7a" stroke-width="1.4" stroke-opacity="0.8"/>
<line x1="1289.72" y1="794.9" x2="1289.72" y2="800.9" stroke="#7a7a7a" stroke-width="1.4" stroke-opacity="0.8"/>
<line x1="1289.98" y1="794.9" x2="1289.98" y2="800.9" stroke="#7a7a7a" stroke-width="1.4" stroke-opacity="0.8"/>
<line x1="1292.83" y1="794.9" x2="1292.83" y2="800.9" stroke="#7a7a7a" stroke-width="1.4" stroke-opacity="0.8"/>
<line x1="1294.51" y1="794.9" x2="1294.51" y2="800.9" stroke="#7a7a7a" stroke-width="1.4" stroke-opacity="0.8"/>
<line x1="1296.13" y1="794.9" x2="1296.13" y2="800.9" stroke="#7a7a7a" stroke-width="1.4" stroke-opacity="0.8"/>
<line x1="1299.07" y1="794.9" x2="1299.07" y2="800.9" stroke="#7a7a7a" stroke-width="1.4" stroke-opacity="0.8"/>
<line x1="1300.58" y1="794.9" x2="1300.58" y2="800.9" stroke="#7a7a7a" stroke-width="1.4" stroke-opacity="0.8"/>
<line x1="1301.44" y1="794.9" x2="1301.44" y2="800.9" stroke="#7a7a7a" stroke-width="1.4" stroke-opacity="0.8"/>
<line x1="1303.81" y1="794.9" x2="1303.81" y2="800.9" stroke="#7a7a7a" stroke-width="1.4" stroke-opacity="0.8"/>
<line x1="1305.64" y1="794.9" x2="1305.64" y2="800.9" stroke="#7a7a7a" stroke-width="1.4" stroke-opacity="0.8"/>
<line x1="1306.33" y1="794.9" x2="1306.33" y2="800.9" stroke="#7a7a7a" stroke-width="1.4" stroke-opacity="0.8"/>
<line x1="1308.06" y1="794.9" x2="1308.06" y2="800.9" stroke="#7a7a7a" stroke-width="1.4" stroke-opacity="0.8"/>
<line x1="1310.55" y1="794.9" x2="1310.55" y2="800.9" stroke="#7a7a7a" stroke-width="1.4" stroke-opacity="0.8"/>
<line x1="1312.4" y1="794.9" x2="1312.4" y2="800.9" stroke="#7a7a7a" stroke-width="1.4" stroke-opacity="0.8"/>
<line x1="1313.6" y1="794.9" x2="1313.6" y2="800.9" stroke="#7a7a7a" stroke-width="1.4" stroke-opacity="0.8"/>
<line x1="1315.17" y1="794.9" x2="1315.17" y2="800.9" stroke="#7a7a7a" stroke-width="1.4" stroke-opacity="0.8"/>
<line x1="1316.95" y1="794.9" x2="1316.95" y2="800.9" stroke="#7a7a7a" stroke-width="1.4" stroke-opacity="0.8"/>
<line x1="1318.19" y1="794.9" x2="1318.19" y2="800.9" stroke="#7a7a7a" stroke-width="1.4" stroke-opacity="0.8"/>
<line x1="1320.84" y1="794.9" x2="1320.84" y2="800.9" stroke="#7a7a7a" stroke-width="1.4" stroke-opacity="0.8"/>
<line x1="1322.62" y1="794.9" x2="1322.62" y2="800.9" stroke="#7a7a7a" stroke-width="1.4" stroke-opacity="0.8"/>
<line x1="1323.47" y1="794.9" x2="1323.47" y2="800.9" stroke="#7a7a7a" stroke-width="1.4" stroke-opacity="0.8"/>
<line x1="1324.35" y1="794.9" x2="1324.35" y2="800.9" stroke="#7a7a7a" stroke-width="1.4" stroke-opacity="0.8"/>
<line x1="1326.61" y1="794.9" x2="1326.61" y2="800.9" stroke="#7a7a7a" stroke-width="1.4" stroke-opacity="0.8"/>
<line x1="1328.92" y1="794.9" x2="1328.92" y2="800.9" stroke="#7a7a7a" stroke-width="1.4" stroke-opacity="0.8"/>
<line x1="1329.77" y1="794.9" x2="1329.77" y2="800.9" stroke="#7a7a7a" stroke-width="1.4" stroke-opacity="0.8"/>
<line x1="1331.05" y1="794.9" x2="1331.05" y2="800.9" stroke="#7a7a7a" stroke-width="1.4" stroke-opacity="0.8"/>
<line x1="1332.82" y1="794.9" x2="1332.82" y2="800.9" stroke="#7a7a7a" stroke-width="1.4" stroke-opacity="0.8"/>
<line x1="1335.33" y1="794.9" x2="1335.33" y2="800.9" stroke="#7a7a7a" stroke-width="1.4" stroke-opacity="0.8"/>
<line x1="1336.82" y1="794.9" x2="1336.82" y2="800.9" stroke="#7a7a7a" stroke-width="1.4" stroke-opacity="0.8"/>
<line x1="1337.91" y1="794.9" x2="1337.91" y2="800.9" stroke="#7a7a7a" stroke-width="1.4" stroke-opacity="0.8"/>
<line x1="1340.1" y1="794.9" x2="1340.1" y2="800.9" stroke="#7a7a7a" stroke-width="1.4" stroke-opacity="0.8"/>
<line x1="1341.97" y1="794.9" x2="1341.97" y2="800.9" stroke="#7a7a7a" stroke-width="1.4" stroke-opacity="0.8"/>
<line x1="1343.94" y1="794.9" x2="1343.94" y2="800.9" stroke="#7a7a7a" stroke-width="1.4" stroke-opacity="0.8"/>
<line x1="1345.36" y1="794.9" x2="1345.36" y2="800.9" stroke="#7a7a7a" stroke-width="1.4" stroke-opacity="0.8"/>
<line x1="1346.35" y1="794.9" x2="1346.35" y2="800.9" stroke="#7a7a7a" stroke-width="1.4" stroke-opacity="0.8"/>
<line x1="1348.61" y1="794.9" x2="1348.61" y2="800.9" stroke="#7a7a7a" stroke-width="1.4" stroke-opacity="0.8"/>
<line x1="1350.44" y1="794.9" x2="1350.44" y2="800.9" stroke="#7a7a7a" stroke-width="1.4" stroke-opacity="0.8"/>
<line x1="1351.99" y1="794.9" x2="1351.99" y2="800.9" stroke="#7a7a7a" stroke-width="1.4" stroke-opacity="0.8"/>
<line x1="1353.43" y1="794.9" x2="1353.43" y2="800.9" stroke="#7a7a7a" stroke-width="1.4" stroke-opacity="0.8"/>
<line x1="1354.8" y1="794.9" x2="1354.8" y2="800.9" stroke="#7a7a7a" stroke-width="1.4" stroke-opacity="0.8"/>
<line x1="1356.32" y1="794.9" x2="1356.32" y2="800.9" stroke="#7a7a7a" stroke-width="1.4" stroke-opacity="0.8"/>
<line x1="1358.51" y1="794.9" x2="1358.51" y2="800.9" stroke="#7a7a7a" stroke-width="1.4" stroke-opacity="0.8"/>
<line x1="1359.79" y1="794.9" x2="1359.79" y2="800.9" stroke="#7a7a7a" stroke-width="1.4" stroke-opacity="0.8"/>
<line x1="1361.58" y1="794.9" x2="1361.58" y2="800.9" stroke="#7a7a7a" stroke-width="1.4" stroke-opacity="0.8"/>
<line x1="1362.41" y1="794.9" x2="1362.41" y2="800.9" stroke="#7a7a7a" stroke-width="1.4" stroke-opacity="0.8"/>
<line x1="1363.83" y1="794.9" x2="1363.83" y2="800.9" stroke="#7a7a7a" stroke-width="1.4" stroke-opacity="0.8"/>
<line x1="1365.76" y1="794.9" x2="1365.76" y2="800.9" stroke="#7a7a7a" stroke-width="1.4" stroke-opacity="0.8"/>
<line x1="1367.92" y1="794.9" x2="1367.92" y2="800.9" stroke="#7a7a7a" stroke-width="1.4" stroke-opacity="0.8"/>
<line x1="1369.54" y1="794.9" x2="1369.54" y2="800.9" stroke="#7a7a7a" stroke-width="1.4" stroke-opacity="0.8"/>
<line x1="1370.57" y1="794.9" x2="1370.57" y2="800.9" stroke="#7a7a7a" stroke-width="1.4" stroke-opacity="0.8"/>
<line x1="1372.19" y1="794.9" x2="1372.19" y2="800.9" stroke="#7a7a7a" stroke-width="1.4" stroke-opacity="0.8"/>
<line x1="1375.08" y1="794.9" x2="1375.08" y2="800.9" stroke="#7a7a7a" stroke-width="1.4" stroke-opacity="0.8"/>
<line x1="1375.28" y1="794.9" x2="1375.28" y2="800.9" stroke="#7a7a7a" stroke-width="1.4" stroke-opacity="0.8"/>
<line x1="1378.32" y1="794.9" x2="1378.32" y2="800.9" stroke="#7a7a7a" stroke-width="1.4" stroke-opacity="0.8"/>
<line x1="1379.71" y1="794.9" x2="1379.71" y2="800.9" stroke="#7a7a7a" stroke-width="1.4" stroke-opacity="0.8"/>
<line x1="1381.02" y1="794.9" x2="1381.02" y2="800.9" stroke="#7a7a7a" stroke-width="1.4" stroke-opacity="0.8"/>
<line x1="1383.35" y1="794.9" x2="1383.35" y2="800.9" stroke="#7a7a7a" stroke-width="1.4" stroke-opacity="0.8"/>
<line x1="1384.47" y1="794.9" x2="1384.47" y2="800.9" stroke="#7a7a7a" stroke-width="1.4" stroke-opacity="0.8"/>
<line x1="867.01" y1="1359.5" x2="867.01" y2="1365.5" stroke="#7a7a7a" stroke-width="1.4" stroke-opacity="0.8"/>
<line x1="874.5" y1="1359.5" x2="874.5" y2="1365.5" stroke="#7a7a7a" stroke-width="1.4" stroke-opacity="0.8"/>
<line x1="875.77" y1="1359.5" x2="875.77" y2="1365.5" stroke="#7a7a7a" stroke-width="1.4" stroke-opacity="0.8"/>
<line x1="879.78" y1="1359.5" x2="879.78" y2="1365.5" stroke="#7a7a7a" stroke-width="1.4" stroke-opacity="0.8"/>
<line x1="885.44" y1="1359.5" x2="885.44" y2="1365.5" stroke="#7a7a7a" stroke-width="1.4" stroke-opacity="0.8"/>
<line x1="889.37" y1="1359.5" x2="889.37" y2="1365.5" stroke="#7a7a7a" stroke-width="1.4" stroke-opacity="0.8"/>
<line x1="891.77" y1="1359.5" x2="891.77" y2="1365.5" stroke="#7a7a7a" stroke-width="1.4" stroke-opacity="0.8"/>
<line x1="894.39" y1="1359.5" x2="894.39" y2="1365.5" stroke="#7a7a7a" stroke-width="1.4" stroke-opacity="0.8"/>
<line x1="902.34" y1="1359.5" x2="902.34" y2="1365.5" stroke="#7a7a7a" stroke-width="1.4" stroke-opacity="0.8"/>
<line x1="908.19" y1="1359.5" x2="908.19" y2="1365.5" stroke="#7a7a7a" stroke-width="1.4" stroke-opacity="0.8"/>
<line x1="908.84" y1="1359.5" x2="908.84" y2="1365.5" stroke="#7a7a7a" stroke-width="1.4" stroke-opacity="0.8"/>
<line x1="927.26" y1="1359.5" x2="927.26" y2="1365.5" stroke="#7a7a7a" stroke-width="1.4" stroke-opacity="0.8"/>
<line x1="930.19" y1="1359.5" x2="930.19" y2="1365.5" stroke="#7a7a7a" stroke-width="1.4" stroke-opacity="0.8"/>
<line x1="933.53" y1="1359.5" x2="933.53" y2="1365.5" stroke="#7a7a7a" stroke-width="1.4" stroke-opacity="0.8"/>
<line x1="939.74" y1="1359.5" x2="939.74" y2="1365.5" stroke="#7a7a7a" stroke-width="1.4" stroke-opacity="0.8"/>
<line x1="947.87" y1="1359.5" x2="947.87" y2="1365.5" stroke="#7a7a7a" stroke-width="1.4" stroke-opacity="0.8"/>
<line x1="958.45" y1="1359.5" x2="958.45" y2="1365.5" stroke="#7a7a7a" stroke-width="1.4" stroke-opacity="0.8"/>
<line x1="959.63" y1="1359.5" x2="959.63" y2="1365.5" stroke="#7a7a7a" stroke-width="1.4" stroke-opacity="0.8"/>
<line x1="966.84" y1="1359.5" x2="966.84" y2="1365.5" stroke="#7a7a7a" stroke-width="1.4" stroke-opacity="0.8"/>
<line x1="970.03" y1="1359.5" x2="970.03" y2="1365.5" stroke="#7a7a7a" stroke-width="1.4" stroke-opacity="0.8"/>
<line x1="972.01" y1="1359.5" x2="972.01" y2="1365.5" stroke="#7a7a7a" stroke-width="1.4" stroke-opacity="0.8"/>
<line x1="978.44" y1="1359.5" x2="978.44" y2="1365.5" stroke="#7a7a7a" stroke-width="1.4" stroke-opacity="0.8"/>
<line x1="979.7" y1="1359.5" x2="979.7" y2="1365.5" stroke="#7a7a7a" stroke-width="1.4" stroke-opacity="0.8"/>
<line x1="980.88" y1="1359.5" x2="980.88" y2="1365.5" stroke="#7a7a7a" stroke-width="1.4" stroke-opacity="0.8"/>
<line x1="991.26" y1="1359.5" x2="991.26" y2="1365.5" stroke="#7a7a7a" stroke-width="1.4" stroke-opacity="0.8"/>
<line x1="993.66" y1="1359.5" x2="993.66" y2="1365.5" stroke="#7a7a7a" stroke-width="1.4" stroke-opacity="0.8"/>
<line x1="995.68" y1="1359.5" x2="995.68" y2="1365.5" stroke="#7a7a7a" stroke-width="1.4" stroke-opacity="0.8"/>
<line x1="1005.99" y1="1359.5" x2="1005.99" y2="1365.5" stroke="#7a7a7a" stroke-width="1.4" stroke-opacity="0.8"/>
<line x1="1007.9" y1="1359.5" x2="1007.9" y2="1365.5" stroke="#7a7a7a" stroke-width="1.4" stroke-opacity="0.8"/>
<line x1="1016.2" y1="1359.5" x2="1016.2" y2="1365.5" stroke="#7a7a7a" stroke-width="1.4" stroke-opacity="0.8"/>
<line x1="1020.08" y1="1359.5" x2="1020.08" y2="1365.5" stroke="#7a7a7a" stroke-width="1.4" stroke-opacity="0.8"/>
<line x1="1026.51" y1="1359.5" x2="1026.51" y2="1365.5" stroke="#7a7a7a" stroke-width="1.4" stroke-opacity="0.8"/>
<line x1="1028.82" y1="1359.5" x2="1028.82" y2="1365.5" stroke="#7a7a7a" stroke-width="1.4" stroke-opacity="0.8"/>
<line x1="1031.25" y1="1359.5" x2="1031.25" y2="1365.5" stroke="#7a7a7a" stroke-width="1.4" stroke-opacity="0.8"/>
<line x1="1034.54" y1="1359.5" x2="1034.54" y2="1365.5" stroke="#7a7a7a" stroke-width="1.4" stroke-opacity="0.8"/>
<line x1="1042.13" y1="1359.5" x2="1042.13" y2="1365.5" stroke="#7a7a7a" stroke-width="1.4" stroke-opacity="0.8"/>
<line x1="1043.8" y1="1359.5" x2="1043.8" y2="1365.5" stroke="#7a7a7a" stroke-width="1.4" stroke-opacity="0.8"/>
<line x1="1064.27" y1="1359.5" x2="1064.27" y2="1365.5" stroke="#7a7a7a" stroke-width="1.4" stroke-opacity="0.8"/>
<line x1="1066.41" y1="1359.5" x2="1066.41" y2="1365.5" stroke="#7a7a7a" stroke-width="1.4" stroke-opacity="0.8"/>
<line x1="1069.16" y1="1359.5" x2="1069.16" y2="1365.5" stroke="#7a7a7a" stroke-width="1.4" stroke-opacity="0.8"/>
<line x1="1078.64" y1="1359.5" x2="1078.64" y2="1365.5" stroke="#7a7a7a" stroke-width="1.4" stroke-opacity="0.8"/>
<line x1="1080.78" y1="1359.5" x2="1080.78" y2="1365.5" stroke="#7a7a7a" stroke-width="1.4" stroke-opacity="0.8"/>
<line x1="1083.64" y1="1359.5" x2="1083.64" y2="1365.5" stroke="#7a7a7a" stroke-width="1.4" stroke-opacity="0.8"/>
<line x1="1087.06" y1="1359.5" x2="1087.06" y2="1365.5" stroke="#7a7a7a" stroke-width="1.4" stroke-opacity="0.8"/>
<line x1="1089.84" y1="1359.5" x2="1089.84" y2="1365.5" stroke="#7a7a7a" stroke-width="1.4" stroke-opacity="0.8"/>
<line x1="1092.26" y1="1359.5" x2="1092.26" y2="1365.5" stroke="#7a7a7a" stroke-width="1.4" stroke-opacity="0.8"/>
<line x1="1095.12" y1="1359.5" x2="1095.12" y2="1365.5" stroke="#7a7a7a" stroke-width="1.4" stroke-opacity="0.8"/>
<line x1="1109.67" y1="1359.5" x2="1109.67" y2="1365.5" stroke="#7a7a7a" stroke-width="1.4" stroke-opacity="0.8"/>
<line x1="1110.02" y1="1359.5" x2="1110.02" y2="1365.5" stroke="#7a7a7a" stroke-width="1.4" stroke-opacity="0.8"/>
<line x1="1121.05" y1="1359.5" x2="1121.05" y2="1365.5" stroke="#7a7a7a" stroke-width="1.4" stroke-opacity="0.8"/>
<line x1="1123.23" y1="1359.5" x2="1123.23" y2="1365.5" stroke="#7a7a7a" stroke-width="1.4" stroke-opacity="0.8"/>
<line x1="1125.32" y1="1359.5" x2="1125.32" y2="1365.5" stroke="#7a7a7a" stroke-width="1.4" stroke-opacity="0.8"/>
<line x1="1132.72" y1="1359.5" x2="1132.72" y2="1365.5" stroke="#7a7a7a" stroke-width="1.4" stroke-opacity="0.8"/>
<line x1="1133.91" y1="1359.5" x2="1133.91" y2="1365.5" stroke="#7a7a7a" stroke-width="1.4" stroke-opacity="0.8"/>
<line x1="1135.85" y1="1359.5" x2="1135.85" y2="1365.5" stroke="#7a7a7a" stroke-width="1.4" stroke-opacity="0.8"/>
<line x1="1138.5" y1="1359.5" x2="1138.5" y2="1365.5" stroke="#7a7a7a" stroke-width="1.4" stroke-opacity="0.8"/>
<line x1="1142.82" y1="1359.5" x2="1142.82" y2="1365.5" stroke="#7a7a7a" stroke-width="1.4" stroke-opacity="0.8"/>
<line x1="1143.7" y1="1359.5" x2="1143.7" y2="1365.5" stroke="#7a7a7a" stroke-width="1.4" stroke-opacity="0.8"/>
<line x1="1145.53" y1="1359.5" x2="1145.53" y2="1365.5" stroke="#7a7a7a" stroke-width="1.4" stroke-opacity="0.8"/>
<line x1="1149.93" y1="1359.5" x2="1149.93" y2="1365.5" stroke="#7a7a7a" stroke-width="1.4" stroke-opacity="0.8"/>
<line x1="1157.68" y1="1359.5" x2="1157.68" y2="1365.5" stroke="#7a7a7a" stroke-width="1.4" stroke-opacity="0.8"/>
<line x1="1161.09" y1="1359.5" x2="1161.09" y2="1365.5" stroke="#7a7a7a" stroke-width="1.4" stroke-opacity="0.8"/>
<line x1="1162.06" y1="1359.5" x2="1162.06" y2="1365.5" stroke="#7a7a7a" stroke-width="1.4" stroke-opacity="0.8"/>
<line x1="1165.91" y1="1359.5" x2="1165.91" y2="1365.5" stroke="#7a7a7a" stroke-width="1.4" stroke-opacity="0.8"/>
<line x1="1166.51" y1="1359.5" x2="1166.51" y2="1365.5" stroke="#7a7a7a" stroke-width="1.4" stroke-opacity="0.8"/>
<line x1="1174.36" y1="1359.5" x2="1174.36" y2="1365.5" stroke="#7a7a7a" stroke-width="1.4" stroke-opacity="0.8"/>
<line x1="1176.69" y1="1359.5" x2="1176.69" y2="1365.5" stroke="#7a7a7a" stroke-width="1.4" stroke-opacity="0.8"/>
<line x1="1185.03" y1="1359.5" x2="1185.03" y2="1365.5" stroke="#7a7a7a" stroke-width="1.4" stroke-opacity="0.8"/>
<line x1="1187.58" y1="1359.5" x2="1187.58" y2="1365.5" stroke="#7a7a7a" stroke-width="1.4" stroke-opacity="0.8"/>
<line x1="1188.77" y1="1359.5" x2="1188.77" y2="1365.5" stroke="#7a7a7a" stroke-width="1.4" stroke-opacity="0.8"/>
<line x1="1198.88" y1="1359.5" x2="1198.88" y2="1365.5" stroke="#7a7a7a" stroke-width="1.4" stroke-opacity="0.8"/>
<line x1="1208.16" y1="1359.5" x2="1208.16" y2="1365.5" stroke="#7a7a7a" stroke-width="1.4" stroke-opacity="0.8"/>
<line x1="1211.25" y1="1359.5" x2="1211.25" y2="1365.5" stroke="#7a7a7a" stroke-width="1.4" stroke-opacity="0.8"/>
<line x1="1219.46" y1="1359.5" x2="1219.46" y2="1365.5" stroke="#7a7a7a" stroke-width="1.4" stroke-opacity="0.8"/>
<line x1="1221.91" y1="1359.5" x2="1221.91" y2="1365.5" stroke="#7a7a7a" stroke-width="1.4" stroke-opacity="0.8"/>
<line x1="1226" y1="1359.5" x2="1226" y2="1365.5" stroke="#7a7a7a" stroke-width="1.4" stroke-opacity="0.8"/>
<line x1="1227.33" y1="1359.5" x2="1227.33" y2="1365.5" stroke="#7a7a7a" stroke-width="1.4" stroke-opacity="0.8"/>
<line x1="1230.69" y1="1359.5" x2="1230.69" y2="1365.5" stroke="#7a7a7a" stroke-width="1.4" stroke-opacity="0.8"/>
<line x1="1231.83" y1="1359.5" x2="1231.83" y2="1365.5" stroke="#7a7a7a" stroke-width="1.4" stroke-opacity="0.8"/>
<line x1="1235.34" y1="1359.5" x2="1235.34" y2="1365.5" stroke="#7a7a7a" stroke-width="1.4" stroke-opacity="0.8"/>
<line x1="1242.04" y1="1359.5" x2="1242.04" y2="1365.5" stroke="#7a7a7a" stroke-width="1.4" stroke-opacity="0.8"/>
<line x1="1243.66" y1="1359.5" x2="1243.66" y2="1365.5" stroke="#7a7a7a" stroke-width="1.4" stroke-opacity="0.8"/>
<line x1="1245.03" y1="1359.5" x2="1245.03" y2="1365.5" stroke="#7a7a7a" stroke-width="1.4" stroke-opacity="0.8"/>
<line x1="1248.25" y1="1359.5" x2="1248.25" y2="1365.5" stroke="#7a7a7a" stroke-width="1.4" stroke-opacity="0.8"/>
<line x1="1251.14" y1="1359.5" x2="1251.14" y2="1365.5" stroke="#7a7a7a" stroke-width="1.4" stroke-opacity="0.8"/>
<line x1="1253.05" y1="1359.5" x2="1253.05" y2="1365.5" stroke="#7a7a7a" stroke-width="1.4" stroke-opacity="0.8"/>
<line x1="1254.5" y1="1359.5" x2="1254.5" y2="1365.5" stroke="#7a7a7a" stroke-width="1.4" stroke-opacity="0.8"/>
<line x1="1256.65" y1="1359.5" x2="1256.65" y2="1365.5" stroke="#7a7a7a" stroke-width="1.4" stroke-opacity="0.8"/>
<line x1="1263.22" y1="1359.5" x2="1263.22" y2="1365.5" stroke="#7a7a7a" stroke-width="1.4" stroke-opacity="0.8"/>
<line x1="1266.98" y1="1359.5" x2="1266.98" y2="1365.5" stroke="#7a7a7a" stroke-width="1.4" stroke-opacity="0.8"/>
<line x1="1267.86" y1="1359.5" x2="1267.86" y2="1365.5" stroke="#7a7a7a" stroke-width="1.4" stroke-opacity="0.8"/>
<line x1="1270.24" y1="1359.5" x2="1270.24" y2="1365.5" stroke="#7a7a7a" stroke-width="1.4" stroke-opacity="0.8"/>
<line x1="1278.07" y1="1359.5" x2="1278.07" y2="1365.5" stroke="#7a7a7a" stroke-width="1.4" stroke-opacity="0.8"/>
<line x1="1280.33" y1="1359.5" x2="1280.33" y2="1365.5" stroke="#7a7a7a" stroke-width="1.4" stroke-opacity="0.8"/>
<line x1="1282.77" y1="1359.5" x2="1282.77" y2="1365.5" stroke="#7a7a7a" stroke-width="1.4" stroke-opacity="0.8"/>
<line x1="1298.24" y1="1359.5" x2="1298.24" y2="1365.5" stroke="#7a7a7a" stroke-width="1.4" stroke-opacity="0.8"/>
<line x1="1300.06" y1="1359.5" x2="1300.06" y2="1365.5" stroke="#7a7a7a" stroke-width="1.4" stroke-opacity="0.8"/>
<line x1="1303.3" y1="1359.5" x2="1303.3" y2="1365.5" stroke="#7a7a7a" stroke-width="1.4" stroke-opacity="0.8"/>
<line x1="1306.77" y1="1359.5" x2="1306.77" y2="1365.5" stroke="#7a7a7a" stroke-width="1.4" stroke-opacity="0.8"/>
<line x1="1307.65" y1="1359.5" x2="1307.65" y2="1365.5" stroke="#7a7a7a" stroke-width="1.4" stroke-opacity="0.8"/>
<line x1="1310.35" y1="1359.5" x2="1310.35" y2="1365.5" stroke="#7a7a7a" stroke-width="1.4" stroke-opacity="0.8"/>
<line x1="1313.96" y1="1359.5" x2="1313.96" y2="1365.5" stroke="#7a7a7a" stroke-width="1.4" stroke-opacity="0.8"/>
<line x1="1317.55" y1="1359.5" x2="1317.55" y2="1365.5" stroke="#7a7a7a" stroke-width="1.4" stroke-opacity="0.8"/>
<line x1="1320.19" y1="1359.5" x2="1320.19" y2="1365.5" stroke="#7a7a7a" stroke-width="1.4" stroke-opacity="0.8"/>
<line x1="1321.88" y1="1359.5" x2="1321.88" y2="1365.5" stroke="#7a7a7a" stroke-width="1.4" stroke-opacity="0.8"/>
<line x1="1331.18" y1="1359.5" x2="1331.18" y2="1365.5" stroke="#7a7a7a" stroke-width="1.4" stroke-opacity="0.8"/>
<line x1="1334.75" y1="1359.5" x2="1334.75" y2="1365.5" stroke="#7a7a7a" stroke-width="1.4" stroke-opacity="0.8"/>
<line x1="1344.65" y1="1359.5" x2="1344.65" y2="1365.5" stroke="#7a7a7a" stroke-width="1.4" stroke-opacity="0.8"/>
<line x1="1347.06" y1="1359.5" x2="1347.06" y2="1365.5" stroke="#7a7a7a" stroke-width="1.4" stroke-opacity="0.8"/>
<line x1="1348.75" y1="1359.5" x2="1348.75" y2="1365.5" stroke="#7a7a7a" stroke-width="1.4" stroke-opacity="0.8"/>
<line x1="1360.38" y1="1359.5" x2="1360.38" y2="1365.5" stroke="#7a7a7a" stroke-width="1.4" stroke-opacity="0.8"/>
<polyline points="893.66,1324.34 945.78,1293.11 997.9,1183.81 1050.02,1269.69 1102.14,1161.43 1154.26,1095.84 1206.38,992.79 1258.5,996.95 1310.62,881.4 1362.74,835.07" fill="none" stroke="#000" stroke-width="2.4" stroke-linejoin="round"/>
<circle cx="906.69" cy="1316.54" r="2.1" fill="#000"/>
<circle cx="919.72" cy="1308.73" r="2.1" fill="#000"/>
<circle cx="932.75" cy="1300.92" r="2.1" fill="#000"/>
<circle cx="958.81" cy="1265.79" r="2.1" fill="#000"/>
<circle cx="971.84" cy="1238.46" r="2.1" fill="#000"/>
<circle cx="984.87" cy="1211.14" r="2.1" fill="#000"/>
<circle cx="1010.93" cy="1205.28" r="2.1" fill="#000"/>
<circle cx="1023.96" cy="1226.75" r="2.1" fill="#000"/>
<circle cx="1036.99" cy="1248.22" r="2.1" fill="#000"/>
<circle cx="1063.05" cy="1242.63" r="2.1" fill="#000"/>
<circle cx="1076.08" cy="1215.56" r="2.1" fill="#000"/>
<circle cx="1089.11" cy="1188.49" r="2.1" fill="#000"/>
<circle cx="1115.17" cy="1145.03" r="2.1" fill="#000"/>
<circle cx="1128.2" cy="1128.64" r="2.1" fill="#000"/>
<circle cx="1141.23" cy="1112.24" r="2.1" fill="#000"/>
<circle cx="1167.29" cy="1070.08" r="2.1" fill="#000"/>
<circle cx="1180.32" cy="1044.32" r="2.1" fill="#000"/>
<circle cx="1193.35" cy="1018.55" r="2.1" fill="#000"/>
<circle cx="1219.41" cy="993.83" r="2.1" fill="#000"/>
<circle cx="1232.44" cy="994.87" r="2.1" fill="#000"/>
<circle cx="1245.47" cy="995.91" r="2.1" fill="#000"/>
<circle cx="1271.53" cy="968.06" r="2.1" fill="#000"/>
<circle cx="1284.56" cy="939.17" r="2.1" fill="#000"/>
<circle cx="1297.59" cy="910.29" r="2.1" fill="#000"/>
<circle cx="1323.65" cy="869.82" r="2.1" fill="#000"/>
<circle cx="1336.68" cy="858.24" r="2.1" fill="#000"/>
<circle cx="1349.71" cy="846.66" r="2.1" fill="#000"/>
<rect x="888.91" y="1319.59" width="9.5" height="9.5" fill="#000" rx="2.5"/>
<rect x="941.03" y="1288.36" width="9.5" height="9.5" fill="#000" rx="2.5"/>
<rect x="993.15" y="1179.06" width="9.5" height="9.5" fill="#000" rx="2.5"/>
<rect x="1045.27" y="1264.94" width="9.5" height="9.5" fill="#000" rx="2.5"/>
<rect x="1097.39" y="1156.68" width="9.5" height="9.5" fill="#000" rx="2.5"/>
<rect x="1149.51" y="1091.09" width="9.5" height="9.5" fill="#000" rx="2.5"/>
<rect x="1201.63" y="988.04" width="9.5" height="9.5" fill="#000" rx="2.5"/>
<rect x="1253.75" y="992.2" width="9.5" height="9.5" fill="#000" rx="2.5"/>
<rect x="1305.87" y="876.65" width="9.5" height="9.5" fill="#000" rx="2.5"/>
<rect x="1357.99" y="830.32" width="9.5" height="9.5" fill="#000" rx="2.5"/>
</g>
<line x1="835.4" y1="1341" x2="839.4" y2="1341" stroke="#9a9a9a" stroke-width="1.3"/>
<line x1="867.6" y1="1369.1" x2="867.6" y2="1373.1" stroke="#9a9a9a" stroke-width="1.3"/>
<line x1="835.4" y1="1210.88" x2="839.4" y2="1210.88" stroke="#9a9a9a" stroke-width="1.3"/>
<line x1="997.9" y1="1369.1" x2="997.9" y2="1373.1" stroke="#9a9a9a" stroke-width="1.3"/>
<line x1="835.4" y1="1080.75" x2="839.4" y2="1080.75" stroke="#9a9a9a" stroke-width="1.3"/>
<line x1="1128.2" y1="1369.1" x2="1128.2" y2="1373.1" stroke="#9a9a9a" stroke-width="1.3"/>
<line x1="835.4" y1="950.62" x2="839.4" y2="950.62" stroke="#9a9a9a" stroke-width="1.3"/>
<line x1="1258.5" y1="1369.1" x2="1258.5" y2="1373.1" stroke="#9a9a9a" stroke-width="1.3"/>
<line x1="835.4" y1="820.5" x2="839.4" y2="820.5" stroke="#9a9a9a" stroke-width="1.3"/>
<line x1="1388.8" y1="1369.1" x2="1388.8" y2="1373.1" stroke="#9a9a9a" stroke-width="1.3"/>
<rect x="841.2" y="793.1" width="575.3" height="574.2" fill="none" stroke="#000" stroke-width="3.6"/>
<text x="1390.8" y="1336.5" font-size="30.1" text-anchor="end" font-weight="normal" fill="#000">Calibration of LR model</text>
<text x="829.2" y="817.6" font-size="26.5" text-anchor="end" font-weight="normal" fill="#000">1.0</text>
<text x="829.2" y="950.7" font-size="26.5" text-anchor="end" font-weight="normal" fill="#000">0.75</text>
<text x="829.2" y="1080.5" font-size="26.5" text-anchor="end" font-weight="normal" fill="#000">0.5</text>
<text x="829.2" y="1210.5" font-size="26.5" text-anchor="end" font-weight="normal" fill="#000">0.25</text>
<text x="829.2" y="1343.9" font-size="26.5" text-anchor="end" font-weight="normal" fill="#000">0</text>
<text x="869" y="1392.6" font-size="26.5" text-anchor="middle" font-weight="normal" fill="#000">0</text>
<text x="1002.4" y="1392.6" font-size="26.5" text-anchor="middle" font-weight="normal" fill="#000">0.25</text>
<text x="1130" y="1392.6" font-size="26.5" text-anchor="middle" font-weight="normal" fill="#000">0.5</text>
<text x="1270.6" y="1392.6" font-size="26.5" text-anchor="middle" font-weight="normal" fill="#000">0.75</text>
<text x="1394" y="1392.6" font-size="26.5" text-anchor="middle" font-weight="normal" fill="#000">1.0</text>
<text x="1037.2" y="774" font-size="39.15" text-anchor="start" font-weight="normal" fill="#000" class="hv">Testing set</text>
<text class="hv" transform="translate(775.7,1077.1) rotate(-90) scale(1,1.06)" x="0" y="0" font-size="38.3" text-anchor="middle">Event Rate</text>
<text x="1079.9" y="1433.5" font-size="35.5" text-anchor="middle" font-weight="normal" fill="#000">Bin Midpoint</text>
<text x="845" y="1339.5" font-size="26.5" text-anchor="start" font-weight="normal" fill="#000">0</text>
</svg></body></html>
